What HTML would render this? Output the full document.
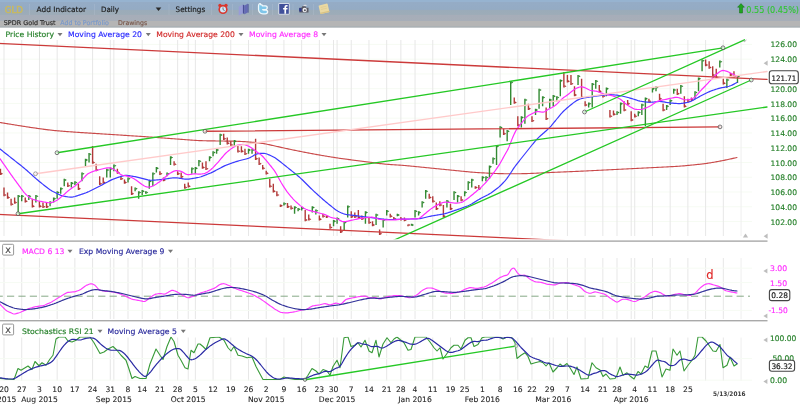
<!DOCTYPE html>
<html><head><meta charset="utf-8"><title>GLD chart</title>
<style>
html,body{margin:0;padding:0;background:#fff;}
body{width:800px;height:404px;overflow:hidden;position:relative;}
svg{display:block;filter:blur(0.35px);position:absolute;left:-4px;top:-4px}
text{font-family:'DejaVu Sans','Liberation Sans',sans-serif;font-size:7.6px;}
.g{stroke:#e7e7e7;stroke-width:1;fill:none}
.h{stroke:#f6fbf3;stroke-width:1;fill:none}
</style></head><body>
<svg width="808" height="412" viewBox="-4 -4 808 412">
<defs>
<linearGradient id="tb" x1="0" y1="0" x2="0" y2="1">
<stop offset="0" stop-color="#97b3d0"/><stop offset="0.06" stop-color="#97b3d0"/><stop offset="0.085" stop-color="#95acc6"/>
<stop offset="0.34" stop-color="#94abc4"/><stop offset="0.365" stop-color="#9babb9"/><stop offset="0.52" stop-color="#9dacb8"/>
<stop offset="0.545" stop-color="#a6adb9"/><stop offset="0.75" stop-color="#a7aeb8"/><stop offset="0.775" stop-color="#b5b5b5"/>
<stop offset="0.94" stop-color="#b5b5b5"/><stop offset="0.955" stop-color="#abb1b4"/><stop offset="1" stop-color="#abb1b4"/>
</linearGradient>
<clipPath id="cm"><rect x="-4" y="38" width="772" height="201.2"/></clipPath>
<clipPath id="c2"><rect x="-4" y="256" width="768" height="64"/></clipPath>
<clipPath id="c3"><rect x="-4" y="336.7" width="772" height="46.3"/></clipPath>
</defs>
<rect x="-4" y="-4" width="808" height="412" fill="#fff"/>

<rect x="-4" y="0" width="808" height="27.7" fill="url(#tb)"/><rect x="-4" y="-4" width="808" height="4.2" fill="#97b3d0"/>
<rect x="29" y="4" width="1" height="11" fill="#c3cfdf" opacity="0.22"/>
<rect x="94" y="4" width="1" height="11" fill="#c3cfdf" opacity="0.22"/>
<rect x="168.5" y="4" width="1" height="11" fill="#c3cfdf" opacity="0.22"/>
<rect x="211" y="4" width="1" height="11" fill="#c3cfdf" opacity="0.22"/>
<rect x="232" y="4" width="1" height="11" fill="#c3cfdf" opacity="0.22"/>
<rect x="252" y="4" width="1" height="11" fill="#c3cfdf" opacity="0.22"/>
<rect x="272" y="4" width="1" height="11" fill="#c3cfdf" opacity="0.22"/>
<rect x="292.5" y="4" width="1" height="11" fill="#c3cfdf" opacity="0.22"/>
<rect x="313" y="4" width="1" height="11" fill="#c3cfdf" opacity="0.22"/>
<text x="4.75" y="12.60" fill="#c9b95e" stroke="#c9b95e" stroke-width="0.5" textLength="18.30" lengthAdjust="spacingAndGlyphs" style="font-size:8.7px">GLD</text>
<text x="36.60" y="12.20" fill="#1c1c1c" stroke="#1c1c1c" stroke-width="0.16" textLength="49.40" lengthAdjust="spacingAndGlyphs" style="font-size:7.5px">Add Indicator</text>
<text x="101.00" y="12.20" fill="#1c1c1c" stroke="#1c1c1c" stroke-width="0.16" textLength="18.00" lengthAdjust="spacingAndGlyphs" style="font-size:7.5px">Daily</text>
<path d="M155.70 7.40h5.6l-2.80 3.6z" fill="#2a2a2a"/>
<text x="175.60" y="12.20" fill="#1c1c1c" stroke="#1c1c1c" stroke-width="0.16" textLength="29.60" lengthAdjust="spacingAndGlyphs" style="font-size:7.5px">Settings</text>
<text x="3.75" y="25.00" fill="#2b2b2b" stroke="#2b2b2b" stroke-width="0.16" textLength="51.90" lengthAdjust="spacingAndGlyphs" style="font-size:6.4px">SPDR Gold Trust</text>
<text x="60.25" y="25.00" fill="#7798cb" stroke="#7798cb" stroke-width="0.16" textLength="48.60" lengthAdjust="spacingAndGlyphs" style="font-size:6.4px">Add to Portfolio</text>
<text x="118.00" y="25.00" fill="#77574b" stroke="#77574b" stroke-width="0.16" textLength="29.30" lengthAdjust="spacingAndGlyphs" style="font-size:6.4px">Drawings</text>
<g transform="translate(223,9)">
<circle cx="-3" cy="-3.6" r="1.7" fill="#d9352c"/><circle cx="3" cy="-3.6" r="1.7" fill="#d9352c"/>
<circle cx="0" cy="0.4" r="4.6" fill="#d9352c"/><circle cx="0" cy="0.4" r="3" fill="#cfe6f7"/>
<path d="M0 -1.6V0.6L1.6 1.6" stroke="#555" stroke-width="0.8" fill="none"/></g>
<g transform="translate(243.5,9)">
<path d="M-4.8 -2.2l4.2 -2.2v8.6l-4.2 2.4z" fill="#989cd8"/><path d="M-0.6 -4.4l1.6 0.8v8.8l-1.6 -1z" fill="#4a4e98"/>
<path d="M1 -3.6l3.2 -1.6v8.6l-3.2 1.8z" fill="#656ab6"/><path d="M4.2 -5.2l0.8 0.4v8.6l-0.8 -0.4z" fill="#3f438c"/></g>
<g transform="translate(263,9.5)">
<path d="M-3 -4.2q1.8 -0.4 2 1.2h3.4q1.4 0.2 1.2 1.4q-0.2 1 -1.4 1h-3.2q0 1.6 1.6 1.8h2.2q1.4 0.2 1.2 1.4q-0.2 1.1 -1.6 1.1h-2.4q-3.6 -0.4 -3.8 -3.8v-3.6q0 -1.2 0.8 -1.5z" fill="#eef7fc" stroke="#eef7fc" stroke-width="2.6" stroke-linejoin="round"/>
<path d="M-3 -4.2q1.8 -0.4 2 1.2h3.4q1.4 0.2 1.2 1.4q-0.2 1 -1.4 1h-3.2q0 1.6 1.6 1.8h2.2q1.4 0.2 1.2 1.4q-0.2 1.1 -1.6 1.1h-2.4q-3.6 -0.4 -3.8 -3.8v-3.6q0 -1.2 0.8 -1.5z" fill="#7fc6ea"/></g>
<g transform="translate(284,9)">
<rect x="-5.6" y="-5.8" width="11.2" height="11.4" rx="0.8" fill="#e4e8f2"/>
<rect x="-4.8" y="-5" width="9.6" height="9.8" fill="#3f4f9a"/>
<path d="M0.4 4.8v-4.2h-1.3v-1.5h1.3v-1q0 -2 2 -2h1.2v1.5h-0.8q-0.7 0 -0.7 0.7v0.8h1.5l-0.2 1.5h-1.3v4.2z" fill="#fff"/></g>
<g transform="translate(304,9.3)">
<path d="M-4.6 -1.6h2l0.9 -1.5h3.1l0.9 1.5h2.2v4.8h-9.1z" fill="#5a5a64"/>
<rect x="-4.8" y="-1.2" width="2.4" height="3.4" fill="#2b3a8c"/>
<circle cx="0.7" cy="0.7" r="2.2" fill="#eeeef2"/><circle cx="0.9" cy="0.9" r="1.0" fill="#5a5a60"/>
<path d="M-1 -3.4l1.4 -1.2h1.6l0.8 1.2z" fill="#dcdce2"/></g>
<g transform="translate(324,8.8) rotate(-13)">
<rect x="-4.6" y="-4.4" width="9.2" height="8.8" rx="0.6" fill="#ead9a2"/>
<path d="M-4.6 3h9.2v1.4h-9.2z" fill="#d9c283"/><path d="M-3 -2h6M-3 0h6" stroke="#dcc88e" stroke-width="0.6"/></g>
<path d="M741 3.6l3.4 3.6h-1.9v5.8h-3v-5.8h-1.9z" fill="#1fa51f" stroke="#136a13" stroke-width="0.5"/>
<text x="746.30" y="12.60" fill="#2fc62f" stroke="#2fc62f" stroke-width="0.1" textLength="52.70" lengthAdjust="spacingAndGlyphs" style="font-size:8.1px">0.55 (0.45%)</text>
<path class="h" d="M-4 221.50H752"/>
<path class="h" d="M-4 206.74H752"/>
<path class="h" d="M-4 191.98H752"/>
<path class="h" d="M-4 177.22H752"/>
<path class="h" d="M-4 162.47H752"/>
<path class="h" d="M-4 147.71H752"/>
<path class="h" d="M-4 132.95H752"/>
<path class="h" d="M-4 118.19H752"/>
<path class="h" d="M-4 103.43H752"/>
<path class="h" d="M-4 88.67H752"/>
<path class="h" d="M-4 73.92H752"/>
<path class="h" d="M-4 59.16H752"/>
<path class="h" d="M-4 44.40H752"/>
<path class="g" d="M4.00 40V236M21.72 40V236M39.43 40V236M57.15 40V236M74.87 40V236M92.59 40V236M110.30 40V236M113.85 40V236M128.02 40V236M142.20 40V236M159.91 40V236M177.63 40V236M188.26 40V236M195.35 40V236M213.07 40V236M230.78 40V236M248.50 40V236M266.22 40V236M283.93 40V236M301.65 40V236M319.37 40V236M333.54 40V236M337.09 40V236M351.26 40V236M368.98 40V236M386.70 40V236M400.87 40V236M415.04 40V236M432.76 40V236M450.48 40V236M464.65 40V236M482.37 40V236M500.09 40V236M517.80 40V236M531.98 40V236M549.70 40V236M553.24 40V236M567.41 40V236M585.13 40V236M602.85 40V236M617.02 40V236M631.20 40V236M634.74 40V236M652.46 40V236M670.17 40V236M687.89 40V236M705.61 40V236M723.33 40V236"/>
<path d="M741.04 40V236M741.04 258V319M741.04 337.5V381" stroke="#efefef" stroke-width="1" fill="none"/>
<path class="g" d="M4.00 258V319M21.72 258V319M39.43 258V319M57.15 258V319M74.87 258V319M92.59 258V319M110.30 258V319M113.85 258V319M128.02 258V319M142.20 258V319M159.91 258V319M177.63 258V319M188.26 258V319M195.35 258V319M213.07 258V319M230.78 258V319M248.50 258V319M266.22 258V319M283.93 258V319M301.65 258V319M319.37 258V319M333.54 258V319M337.09 258V319M351.26 258V319M368.98 258V319M386.70 258V319M400.87 258V319M415.04 258V319M432.76 258V319M450.48 258V319M464.65 258V319M482.37 258V319M500.09 258V319M517.80 258V319M531.98 258V319M549.70 258V319M553.24 258V319M567.41 258V319M585.13 258V319M602.85 258V319M617.02 258V319M631.20 258V319M634.74 258V319M652.46 258V319M670.17 258V319M687.89 258V319M705.61 258V319M723.33 258V319"/>
<path class="g" d="M4.00 337.5V381M21.72 337.5V381M39.43 337.5V381M57.15 337.5V381M74.87 337.5V381M92.59 337.5V381M110.30 337.5V381M113.85 337.5V381M128.02 337.5V381M142.20 337.5V381M159.91 337.5V381M177.63 337.5V381M188.26 337.5V381M195.35 337.5V381M213.07 337.5V381M230.78 337.5V381M248.50 337.5V381M266.22 337.5V381M283.93 337.5V381M301.65 337.5V381M319.37 337.5V381M333.54 337.5V381M337.09 337.5V381M351.26 337.5V381M368.98 337.5V381M386.70 337.5V381M400.87 337.5V381M415.04 337.5V381M432.76 337.5V381M450.48 337.5V381M464.65 337.5V381M482.37 337.5V381M500.09 337.5V381M517.80 337.5V381M531.98 337.5V381M549.70 337.5V381M553.24 337.5V381M567.41 337.5V381M585.13 337.5V381M602.85 337.5V381M617.02 337.5V381M631.20 337.5V381M634.74 337.5V381M652.46 337.5V381M670.17 337.5V381M687.89 337.5V381M705.61 337.5V381M723.33 337.5V381"/>
<text x="5.50" y="37.30" fill="#26802a" stroke="#26802a" stroke-width="0.16" textLength="48.50" lengthAdjust="spacingAndGlyphs">Price History</text>
<path d="M57.50 33.00h5l-2.50 3.2z" fill="#777"/>
<text x="68.00" y="37.30" fill="#2a2aff" stroke="#2a2aff" stroke-width="0.16" textLength="74.00" lengthAdjust="spacingAndGlyphs">Moving Average 20</text>
<path d="M145.80 33.00h5l-2.50 3.2z" fill="#777"/>
<text x="156.30" y="37.30" fill="#d22a2a" stroke="#d22a2a" stroke-width="0.16" textLength="78.50" lengthAdjust="spacingAndGlyphs">Moving Average 200</text>
<path d="M238.50 33.00h5l-2.50 3.2z" fill="#777"/>
<text x="249.00" y="37.30" fill="#ff2cff" stroke="#ff2cff" stroke-width="0.16" textLength="69.10" lengthAdjust="spacingAndGlyphs">Moving Average 8</text>
<path d="M321.50 33.00h5l-2.50 3.2z" fill="#777"/>
<path d="M-5.00 121.68 L-4.00 121.84 L-3.00 122.01 L-2.00 122.17 L-1.00 122.34 L0.00 122.50 L1.00 122.66 L2.00 122.83 L3.00 122.99 L4.00 123.16 L5.00 123.32 L6.00 123.48 L7.00 123.65 L8.00 123.81 L9.00 123.98 L10.00 124.14 L11.00 124.30 L12.00 124.47 L13.00 124.63 L14.00 124.79 L15.00 124.96 L16.00 125.12 L17.00 125.28 L18.00 125.45 L19.00 125.61 L20.00 125.77 L21.00 125.93 L22.00 126.08 L23.00 126.24 L24.00 126.40 L25.00 126.55 L26.00 126.71 L27.00 126.86 L28.00 127.01 L29.00 127.16 L30.00 127.31 L31.00 127.45 L32.00 127.60 L33.00 127.75 L34.00 127.89 L35.00 128.04 L36.00 128.18 L37.00 128.33 L38.00 128.47 L39.00 128.61 L40.00 128.75 L41.00 128.89 L42.00 129.03 L43.00 129.17 L44.00 129.31 L45.00 129.44 L46.00 129.57 L47.00 129.69 L48.00 129.82 L49.00 129.93 L50.00 130.05 L51.00 130.16 L52.00 130.26 L53.00 130.37 L54.00 130.46 L55.00 130.56 L56.00 130.65 L57.00 130.74 L58.00 130.82 L59.00 130.91 L60.00 130.99 L61.00 131.08 L62.00 131.16 L63.00 131.24 L64.00 131.32 L65.00 131.40 L66.00 131.48 L67.00 131.56 L68.00 131.63 L69.00 131.71 L70.00 131.79 L71.00 131.86 L72.00 131.94 L73.00 132.01 L74.00 132.09 L75.00 132.16 L76.00 132.23 L77.00 132.30 L78.00 132.36 L79.00 132.43 L80.00 132.50 L81.00 132.56 L82.00 132.63 L83.00 132.69 L84.00 132.76 L85.00 132.82 L86.00 132.88 L87.00 132.94 L88.00 133.01 L89.00 133.07 L90.00 133.13 L91.00 133.19 L92.00 133.25 L93.00 133.32 L94.00 133.38 L95.00 133.44 L96.00 133.50 L97.00 133.57 L98.00 133.63 L99.00 133.69 L100.00 133.76 L101.00 133.82 L102.00 133.88 L103.00 133.95 L104.00 134.01 L105.00 134.08 L106.00 134.14 L107.00 134.21 L108.00 134.27 L109.00 134.34 L110.00 134.40 L111.00 134.47 L112.00 134.53 L113.00 134.60 L114.00 134.66 L115.00 134.73 L116.00 134.79 L117.00 134.86 L118.00 134.92 L119.00 134.99 L120.00 135.05 L121.00 135.12 L122.00 135.18 L123.00 135.25 L124.00 135.31 L125.00 135.38 L126.00 135.44 L127.00 135.51 L128.00 135.57 L129.00 135.64 L130.00 135.70 L131.00 135.77 L132.00 135.83 L133.00 135.90 L134.00 135.96 L135.00 136.03 L136.00 136.09 L137.00 136.16 L138.00 136.22 L139.00 136.29 L140.00 136.35 L141.00 136.42 L142.00 136.48 L143.00 136.55 L144.00 136.61 L145.00 136.68 L146.00 136.75 L147.00 136.82 L148.00 136.89 L149.00 136.95 L150.00 137.02 L151.00 137.09 L152.00 137.17 L153.00 137.24 L154.00 137.31 L155.00 137.38 L156.00 137.45 L157.00 137.53 L158.00 137.60 L159.00 137.68 L160.00 137.75 L161.00 137.83 L162.00 137.90 L163.00 137.98 L164.00 138.05 L165.00 138.13 L166.00 138.20 L167.00 138.28 L168.00 138.35 L169.00 138.43 L170.00 138.50 L171.00 138.58 L172.00 138.65 L173.00 138.72 L174.00 138.80 L175.00 138.88 L176.00 138.95 L177.00 139.03 L178.00 139.10 L179.00 139.18 L180.00 139.25 L181.00 139.32 L182.00 139.40 L183.00 139.47 L184.00 139.55 L185.00 139.62 L186.00 139.70 L187.00 139.77 L188.00 139.85 L189.00 139.92 L190.00 139.99 L191.00 140.06 L192.00 140.13 L193.00 140.20 L194.00 140.27 L195.00 140.33 L196.00 140.39 L197.00 140.45 L198.00 140.51 L199.00 140.56 L200.00 140.60 L201.00 140.64 L202.00 140.68 L203.00 140.71 L204.00 140.74 L205.00 140.77 L206.00 140.79 L207.00 140.82 L208.00 140.83 L209.00 140.85 L210.00 140.87 L211.00 140.88 L212.00 140.90 L213.00 140.91 L214.00 140.92 L215.00 140.94 L216.00 140.95 L217.00 140.96 L218.00 140.98 L219.00 140.99 L220.00 141.00 L221.00 141.01 L222.00 141.03 L223.00 141.04 L224.00 141.05 L225.00 141.06 L226.00 141.08 L227.00 141.09 L228.00 141.10 L229.00 141.12 L230.00 141.13 L231.00 141.15 L232.00 141.17 L233.00 141.19 L234.00 141.21 L235.00 141.23 L236.00 141.26 L237.00 141.29 L238.00 141.33 L239.00 141.37 L240.00 141.41 L241.00 141.46 L242.00 141.51 L243.00 141.57 L244.00 141.63 L245.00 141.69 L246.00 141.76 L247.00 141.83 L248.00 141.90 L249.00 141.98 L250.00 142.06 L251.00 142.14 L252.00 142.22 L253.00 142.31 L254.00 142.40 L255.00 142.50 L256.00 142.60 L257.00 142.70 L258.00 142.82 L259.00 142.94 L260.00 143.07 L261.00 143.21 L262.00 143.36 L263.00 143.52 L264.00 143.69 L265.00 143.87 L266.00 144.05 L267.00 144.25 L268.00 144.45 L269.00 144.66 L270.00 144.88 L271.00 145.09 L272.00 145.32 L273.00 145.54 L274.00 145.77 L275.00 145.99 L276.00 146.22 L277.00 146.45 L278.00 146.68 L279.00 146.90 L280.00 147.13 L281.00 147.36 L282.00 147.58 L283.00 147.80 L284.00 148.02 L285.00 148.24 L286.00 148.46 L287.00 148.68 L288.00 148.89 L289.00 149.10 L290.00 149.31 L291.00 149.52 L292.00 149.73 L293.00 149.94 L294.00 150.14 L295.00 150.34 L296.00 150.55 L297.00 150.75 L298.00 150.95 L299.00 151.15 L300.00 151.35 L301.00 151.55 L302.00 151.75 L303.00 151.95 L304.00 152.14 L305.00 152.34 L306.00 152.54 L307.00 152.73 L308.00 152.92 L309.00 153.11 L310.00 153.30 L311.00 153.49 L312.00 153.68 L313.00 153.86 L314.00 154.04 L315.00 154.22 L316.00 154.40 L317.00 154.58 L318.00 154.76 L319.00 154.93 L320.00 155.10 L321.00 155.28 L322.00 155.45 L323.00 155.62 L324.00 155.79 L325.00 155.96 L326.00 156.13 L327.00 156.30 L328.00 156.46 L329.00 156.63 L330.00 156.80 L331.00 156.96 L332.00 157.12 L333.00 157.28 L334.00 157.44 L335.00 157.60 L336.00 157.75 L337.00 157.91 L338.00 158.05 L339.00 158.20 L340.00 158.34 L341.00 158.48 L342.00 158.62 L343.00 158.76 L344.00 158.90 L345.00 159.03 L346.00 159.16 L347.00 159.30 L348.00 159.43 L349.00 159.56 L350.00 159.69 L351.00 159.82 L352.00 159.95 L353.00 160.08 L354.00 160.21 L355.00 160.34 L356.00 160.47 L357.00 160.60 L358.00 160.73 L359.00 160.86 L360.00 160.99 L361.00 161.12 L362.00 161.25 L363.00 161.38 L364.00 161.51 L365.00 161.64 L366.00 161.77 L367.00 161.90 L368.00 162.03 L369.00 162.16 L370.00 162.29 L371.00 162.42 L372.00 162.55 L373.00 162.68 L374.00 162.81 L375.00 162.94 L376.00 163.06 L377.00 163.19 L378.00 163.32 L379.00 163.44 L380.00 163.56 L381.00 163.68 L382.00 163.79 L383.00 163.90 L384.00 164.00 L385.00 164.10 L386.00 164.20 L387.00 164.28 L388.00 164.37 L389.00 164.44 L390.00 164.52 L391.00 164.58 L392.00 164.65 L393.00 164.71 L394.00 164.77 L395.00 164.83 L396.00 164.89 L397.00 164.95 L398.00 165.01 L399.00 165.07 L400.00 165.14 L401.00 165.22 L402.00 165.29 L403.00 165.37 L404.00 165.45 L405.00 165.54 L406.00 165.63 L407.00 165.72 L408.00 165.81 L409.00 165.91 L410.00 166.01 L411.00 166.10 L412.00 166.20 L413.00 166.30 L414.00 166.40 L415.00 166.50 L416.00 166.60 L417.00 166.70 L418.00 166.80 L419.00 166.90 L420.00 167.00 L421.00 167.10 L422.00 167.20 L423.00 167.30 L424.00 167.40 L425.00 167.50 L426.00 167.60 L427.00 167.70 L428.00 167.80 L429.00 167.90 L430.00 168.00 L431.00 168.10 L432.00 168.20 L433.00 168.30 L434.00 168.40 L435.00 168.50 L436.00 168.60 L437.00 168.70 L438.00 168.80 L439.00 168.90 L440.00 169.00 L441.00 169.10 L442.00 169.20 L443.00 169.30 L444.00 169.40 L445.00 169.50 L446.00 169.60 L447.00 169.70 L448.00 169.80 L449.00 169.90 L450.00 170.00 L451.00 170.10 L452.00 170.20 L453.00 170.30 L454.00 170.40 L455.00 170.50 L456.00 170.60 L457.00 170.70 L458.00 170.80 L459.00 170.90 L460.00 171.00 L461.00 171.10 L462.00 171.20 L463.00 171.30 L464.00 171.40 L465.00 171.49 L466.00 171.59 L467.00 171.69 L468.00 171.78 L469.00 171.88 L470.00 171.97 L471.00 172.06 L472.00 172.14 L473.00 172.22 L474.00 172.30 L475.00 172.38 L476.00 172.45 L477.00 172.52 L478.00 172.59 L479.00 172.66 L480.00 172.72 L481.00 172.78 L482.00 172.83 L483.00 172.89 L484.00 172.94 L485.00 172.99 L486.00 173.05 L487.00 173.10 L488.00 173.15 L489.00 173.20 L490.00 173.24 L491.00 173.29 L492.00 173.34 L493.00 173.38 L494.00 173.43 L495.00 173.47 L496.00 173.51 L497.00 173.54 L498.00 173.57 L499.00 173.60 L500.00 173.63 L501.00 173.65 L502.00 173.67 L503.00 173.69 L504.00 173.71 L505.00 173.72 L506.00 173.73 L507.00 173.73 L508.00 173.74 L509.00 173.74 L510.00 173.74 L511.00 173.75 L512.00 173.75 L513.00 173.75 L514.00 173.75 L515.00 173.74 L516.00 173.74 L517.00 173.74 L518.00 173.73 L519.00 173.73 L520.00 173.72 L521.00 173.71 L522.00 173.69 L523.00 173.67 L524.00 173.65 L525.00 173.63 L526.00 173.60 L527.00 173.57 L528.00 173.54 L529.00 173.51 L530.00 173.47 L531.00 173.43 L532.00 173.38 L533.00 173.34 L534.00 173.29 L535.00 173.24 L536.00 173.20 L537.00 173.15 L538.00 173.10 L539.00 173.05 L540.00 173.00 L541.00 172.95 L542.00 172.90 L543.00 172.85 L544.00 172.80 L545.00 172.76 L546.00 172.71 L547.00 172.66 L548.00 172.61 L549.00 172.57 L550.00 172.52 L551.00 172.47 L552.00 172.43 L553.00 172.38 L554.00 172.34 L555.00 172.30 L556.00 172.25 L557.00 172.21 L558.00 172.17 L559.00 172.13 L560.00 172.08 L561.00 172.04 L562.00 172.00 L563.00 171.96 L564.00 171.92 L565.00 171.88 L566.00 171.83 L567.00 171.79 L568.00 171.75 L569.00 171.71 L570.00 171.67 L571.00 171.62 L572.00 171.58 L573.00 171.54 L574.00 171.50 L575.00 171.45 L576.00 171.41 L577.00 171.37 L578.00 171.32 L579.00 171.28 L580.00 171.23 L581.00 171.18 L582.00 171.14 L583.00 171.09 L584.00 171.04 L585.00 170.99 L586.00 170.95 L587.00 170.90 L588.00 170.85 L589.00 170.80 L590.00 170.75 L591.00 170.70 L592.00 170.65 L593.00 170.60 L594.00 170.55 L595.00 170.50 L596.00 170.45 L597.00 170.40 L598.00 170.35 L599.00 170.30 L600.00 170.25 L601.00 170.20 L602.00 170.15 L603.00 170.10 L604.00 170.05 L605.00 170.00 L606.00 169.95 L607.00 169.90 L608.00 169.85 L609.00 169.80 L610.00 169.75 L611.00 169.70 L612.00 169.65 L613.00 169.60 L614.00 169.55 L615.00 169.50 L616.00 169.45 L617.00 169.40 L618.00 169.35 L619.00 169.30 L620.00 169.25 L621.00 169.20 L622.00 169.15 L623.00 169.10 L624.00 169.05 L625.00 169.00 L626.00 168.95 L627.00 168.90 L628.00 168.85 L629.00 168.80 L630.00 168.75 L631.00 168.70 L632.00 168.65 L633.00 168.60 L634.00 168.55 L635.00 168.50 L636.00 168.45 L637.00 168.40 L638.00 168.35 L639.00 168.30 L640.00 168.25 L641.00 168.20 L642.00 168.15 L643.00 168.10 L644.00 168.05 L645.00 168.00 L646.00 167.95 L647.00 167.90 L648.00 167.85 L649.00 167.80 L650.00 167.75 L651.00 167.70 L652.00 167.65 L653.00 167.60 L654.00 167.55 L655.00 167.50 L656.00 167.45 L657.00 167.40 L658.00 167.35 L659.00 167.30 L660.00 167.25 L661.00 167.20 L662.00 167.15 L663.00 167.10 L664.00 167.05 L665.00 167.00 L666.00 166.95 L667.00 166.90 L668.00 166.85 L669.00 166.80 L670.00 166.74 L671.00 166.69 L672.00 166.64 L673.00 166.58 L674.00 166.53 L675.00 166.47 L676.00 166.41 L677.00 166.34 L678.00 166.27 L679.00 166.20 L680.00 166.13 L681.00 166.05 L682.00 165.97 L683.00 165.89 L684.00 165.81 L685.00 165.72 L686.00 165.63 L687.00 165.53 L688.00 165.44 L689.00 165.34 L690.00 165.24 L691.00 165.15 L692.00 165.05 L693.00 164.95 L694.00 164.84 L695.00 164.74 L696.00 164.64 L697.00 164.53 L698.00 164.43 L699.00 164.32 L700.00 164.21 L701.00 164.09 L702.00 163.97 L703.00 163.85 L704.00 163.72 L705.00 163.59 L706.00 163.46 L707.00 163.32 L708.00 163.17 L709.00 163.02 L710.00 162.87 L711.00 162.71 L712.00 162.55 L713.00 162.38 L714.00 162.21 L715.00 162.04 L716.00 161.86 L717.00 161.68 L718.00 161.50 L719.00 161.31 L720.00 161.12 L721.00 160.93 L722.00 160.73 L723.00 160.53 L724.00 160.32 L725.00 160.11 L726.00 159.90 L727.00 159.69 L728.00 159.47 L729.00 159.26 L730.00 159.04 L731.00 158.82 L732.00 158.60 L733.00 158.38 L734.00 158.16 L735.00 157.94 L736.00 157.72 L737.00 157.50" fill="none" stroke="#c94a4a" stroke-width="1.15" stroke-linejoin="round" stroke-linecap="round" clip-path="url(#cm)"/>
<path d="M18.17 195.00V212.50M21.72 195.00V201.25M28.80 195.00V200.00M35.89 195.00V202.50M50.07 201.25V206.25M53.61 197.50V202.50M57.15 191.25V198.75M60.70 187.50V193.75M64.24 178.75V186.25M71.33 182.00V187.50M74.87 181.25V185.00M81.96 172.50V181.25M85.50 158.75V166.25M89.04 153.00V162.50M106.76 168.75V177.50M110.30 167.50V177.50M113.85 164.50V171.25M128.02 177.50V182.50M135.11 187.50V191.25M138.65 191.25V198.75M142.20 190.00V195.00M145.74 191.25V193.75M149.28 180.00V188.75M152.83 172.50V186.25M156.37 167.00V172.50M167.00 172.50V176.25M170.54 156.25V165.00M191.80 167.50V173.75M195.35 167.00V173.75M198.89 160.00V166.25M209.52 156.25V161.25M213.07 151.25V156.25M216.61 148.75V153.75M220.15 133.75V145.00M234.33 140.00V146.25M248.50 148.75V153.75M252.04 148.75V153.75M283.93 202.50V205.50M294.57 206.25V213.75M298.11 208.00V211.25M301.65 207.00V210.50M312.28 206.25V212.50M315.83 209.50V214.50M333.54 220.00V226.25M337.09 217.50V223.75M344.17 221.25V230.00M347.72 205.50V217.50M365.43 211.25V223.75M376.07 213.75V225.00M383.15 218.75V227.50M386.70 210.00V215.50M397.33 213.75V216.25M411.50 223.75V225.75M415.04 210.00V217.50M418.59 211.25V215.50M422.13 201.25V207.50M425.67 190.00V198.75M446.93 200.00V207.50M454.02 191.25V200.00M457.57 195.00V202.50M464.65 191.25V196.25M468.20 181.25V190.00M471.74 178.75V187.50M482.37 176.25V181.25M485.91 176.25V181.25M489.46 165.50V178.75M493.00 157.50V163.75M496.54 145.00V165.00M500.09 126.25V137.50M507.17 130.00V141.25M510.72 81.25V105.00M521.35 116.25V127.50M524.89 98.75V123.75M535.52 108.75V115.00M539.07 88.75V108.75M542.61 96.25V106.25M549.70 98.75V108.00M553.24 95.00V106.25M556.78 96.25V101.25M560.33 79.50V96.25M578.04 75.00V85.00M588.67 102.50V107.50M592.22 83.00V107.50M595.76 80.00V88.75M606.39 87.50V96.25M617.02 111.25V115.00M620.57 102.50V113.75M638.28 111.25V116.25M641.83 103.75V115.00M645.37 97.50V126.25M652.46 87.50V92.50M656.00 86.25V91.25M666.63 105.00V110.00M670.17 99.50V105.00M673.72 88.75V93.75M680.80 85.00V93.75M694.98 91.25V98.75M698.52 77.50V91.25M702.07 59.50V71.25M719.78 60.50V67.50M726.87 78.75V88.00M737.50 75.00V83.00" stroke="#338a33" stroke-width="1.4" fill="none" clip-path="url(#cm)"/>
<path d="M0.46 168.75V175.00M4.00 187.50V196.25M7.54 192.50V198.75M11.09 198.75V205.50M14.63 197.50V203.75M25.26 197.50V202.50M32.35 198.75V207.50M39.43 201.25V207.50M42.98 202.50V208.00M46.52 202.50V208.00M67.78 182.50V187.00M78.41 183.75V190.00M92.59 146.00V163.75M96.13 163.75V171.25M99.67 176.25V185.00M103.22 177.50V183.75M117.39 168.75V173.75M120.93 176.25V180.00M124.48 179.50V183.75M131.57 186.25V195.00M159.91 171.25V175.00M163.46 177.50V181.25M174.09 161.25V165.50M177.63 171.25V175.00M181.17 172.50V178.00M184.72 183.75V188.75M188.26 182.50V187.50M202.43 162.50V168.75M205.98 161.25V170.00M223.70 133.75V140.00M227.24 137.50V144.50M230.78 141.25V146.25M237.87 145.00V152.50M241.41 146.25V152.50M244.96 148.75V155.00M255.59 138.75V160.00M259.13 157.50V165.00M262.67 165.00V169.50M266.22 170.75V174.50M269.76 178.75V187.50M273.30 183.75V192.50M276.85 191.25V196.25M280.39 204.50V207.00M287.48 203.00V208.00M291.02 205.50V209.50M305.20 210.00V221.25M308.74 214.50V220.50M319.37 215.50V220.50M322.91 213.75V217.50M326.46 215.50V218.00M330.00 223.75V228.75M340.63 226.25V233.00M351.26 211.25V218.00M354.80 212.50V218.00M358.35 210.00V218.75M361.89 215.50V220.00M368.98 217.50V223.75M372.52 221.25V226.25M379.61 229.50V235.00M390.24 213.75V217.50M393.78 217.00V220.00M400.87 217.00V220.50M404.41 217.50V221.25M407.96 224.50V226.25M429.22 193.75V198.75M432.76 196.25V202.50M436.30 202.50V210.00M439.85 201.25V206.25M443.39 205.00V217.50M450.48 203.75V210.00M461.11 196.25V201.25M475.28 186.25V188.75M478.83 185.00V190.00M503.63 128.75V135.00M514.26 97.50V103.75M517.80 116.25V126.25M528.43 103.75V110.00M531.98 116.25V122.00M546.15 107.50V120.00M563.87 72.00V87.50M567.41 75.00V82.50M570.96 75.00V85.00M574.50 86.25V96.25M581.59 78.75V98.75M585.13 101.25V106.25M599.30 85.00V92.50M602.85 93.75V97.50M609.93 110.00V117.50M613.48 110.50V115.50M624.11 101.25V111.25M627.65 100.00V105.00M631.20 111.25V121.25M634.74 113.75V117.50M648.91 98.75V102.50M659.54 93.75V100.00M663.09 103.75V111.25M677.26 88.75V95.00M684.35 96.25V107.50M687.89 98.75V102.50M691.43 97.50V101.25M705.61 59.50V66.25M709.15 61.25V68.75M712.70 66.25V76.25M716.24 68.75V78.75M723.33 78.75V84.50M730.41 73.00V76.25M733.96 71.25V77.50" stroke="#b23a3a" stroke-width="1.4" fill="none" clip-path="url(#cm)"/>
<path d="M18.67 195.10l2.1 1.2l-2.1 1.2zM22.22 195.10l2.1 1.2l-2.1 1.2zM29.30 195.10l2.1 1.2l-2.1 1.2zM36.39 195.10l2.1 1.2l-2.1 1.2zM50.57 201.35l2.1 1.2l-2.1 1.2zM54.11 197.60l2.1 1.2l-2.1 1.2zM57.65 191.35l2.1 1.2l-2.1 1.2zM61.20 187.60l2.1 1.2l-2.1 1.2zM64.74 178.85l2.1 1.2l-2.1 1.2zM71.83 182.10l2.1 1.2l-2.1 1.2zM75.37 181.35l2.1 1.2l-2.1 1.2zM82.46 172.60l2.1 1.2l-2.1 1.2zM86.00 158.85l2.1 1.2l-2.1 1.2zM89.54 153.10l2.1 1.2l-2.1 1.2zM107.26 168.85l2.1 1.2l-2.1 1.2zM110.80 167.60l2.1 1.2l-2.1 1.2zM114.35 164.60l2.1 1.2l-2.1 1.2zM128.52 177.60l2.1 1.2l-2.1 1.2zM135.61 187.60l2.1 1.2l-2.1 1.2zM139.15 191.35l2.1 1.2l-2.1 1.2zM142.70 190.10l2.1 1.2l-2.1 1.2zM146.24 191.35l2.1 1.2l-2.1 1.2zM149.78 180.10l2.1 1.2l-2.1 1.2zM153.33 172.60l2.1 1.2l-2.1 1.2zM156.87 167.10l2.1 1.2l-2.1 1.2zM167.50 172.60l2.1 1.2l-2.1 1.2zM171.04 156.35l2.1 1.2l-2.1 1.2zM192.30 167.60l2.1 1.2l-2.1 1.2zM195.85 167.10l2.1 1.2l-2.1 1.2zM199.39 160.10l2.1 1.2l-2.1 1.2zM210.02 156.35l2.1 1.2l-2.1 1.2zM213.57 151.35l2.1 1.2l-2.1 1.2zM217.11 148.85l2.1 1.2l-2.1 1.2zM220.65 133.85l2.1 1.2l-2.1 1.2zM234.83 140.10l2.1 1.2l-2.1 1.2zM249.00 148.85l2.1 1.2l-2.1 1.2zM252.54 148.85l2.1 1.2l-2.1 1.2zM284.43 202.60l2.1 1.2l-2.1 1.2zM295.07 206.35l2.1 1.2l-2.1 1.2zM298.61 208.10l2.1 1.2l-2.1 1.2zM302.15 207.10l2.1 1.2l-2.1 1.2zM312.78 206.35l2.1 1.2l-2.1 1.2zM316.33 209.60l2.1 1.2l-2.1 1.2zM334.04 220.10l2.1 1.2l-2.1 1.2zM337.59 217.60l2.1 1.2l-2.1 1.2zM344.67 221.35l2.1 1.2l-2.1 1.2zM348.22 205.60l2.1 1.2l-2.1 1.2zM365.93 211.35l2.1 1.2l-2.1 1.2zM376.57 213.85l2.1 1.2l-2.1 1.2zM383.65 218.85l2.1 1.2l-2.1 1.2zM387.20 210.10l2.1 1.2l-2.1 1.2zM397.83 213.85l2.1 1.2l-2.1 1.2zM412.00 223.85l2.1 1.2l-2.1 1.2zM415.54 210.10l2.1 1.2l-2.1 1.2zM419.09 211.35l2.1 1.2l-2.1 1.2zM422.63 201.35l2.1 1.2l-2.1 1.2zM426.17 190.10l2.1 1.2l-2.1 1.2zM447.43 200.10l2.1 1.2l-2.1 1.2zM454.52 191.35l2.1 1.2l-2.1 1.2zM458.07 195.10l2.1 1.2l-2.1 1.2zM465.15 191.35l2.1 1.2l-2.1 1.2zM468.70 181.35l2.1 1.2l-2.1 1.2zM472.24 178.85l2.1 1.2l-2.1 1.2zM482.87 176.35l2.1 1.2l-2.1 1.2zM486.41 176.35l2.1 1.2l-2.1 1.2zM489.96 165.60l2.1 1.2l-2.1 1.2zM493.50 157.60l2.1 1.2l-2.1 1.2zM497.04 145.10l2.1 1.2l-2.1 1.2zM500.59 126.35l2.1 1.2l-2.1 1.2zM507.67 130.10l2.1 1.2l-2.1 1.2zM511.22 81.35l2.1 1.2l-2.1 1.2zM521.85 116.35l2.1 1.2l-2.1 1.2zM525.39 98.85l2.1 1.2l-2.1 1.2zM536.02 108.85l2.1 1.2l-2.1 1.2zM539.57 88.85l2.1 1.2l-2.1 1.2zM543.11 96.35l2.1 1.2l-2.1 1.2zM550.20 98.85l2.1 1.2l-2.1 1.2zM553.74 95.10l2.1 1.2l-2.1 1.2zM557.28 96.35l2.1 1.2l-2.1 1.2zM560.83 79.60l2.1 1.2l-2.1 1.2zM578.54 75.10l2.1 1.2l-2.1 1.2zM589.17 102.60l2.1 1.2l-2.1 1.2zM592.72 83.10l2.1 1.2l-2.1 1.2zM596.26 80.10l2.1 1.2l-2.1 1.2zM606.89 87.60l2.1 1.2l-2.1 1.2zM617.52 111.35l2.1 1.2l-2.1 1.2zM621.07 102.60l2.1 1.2l-2.1 1.2zM638.78 111.35l2.1 1.2l-2.1 1.2zM642.33 103.85l2.1 1.2l-2.1 1.2zM645.87 97.60l2.1 1.2l-2.1 1.2zM652.96 87.60l2.1 1.2l-2.1 1.2zM656.50 86.35l2.1 1.2l-2.1 1.2zM667.13 105.10l2.1 1.2l-2.1 1.2zM670.67 99.60l2.1 1.2l-2.1 1.2zM674.22 88.85l2.1 1.2l-2.1 1.2zM681.30 85.10l2.1 1.2l-2.1 1.2zM695.48 91.35l2.1 1.2l-2.1 1.2zM699.02 77.60l2.1 1.2l-2.1 1.2zM702.57 59.60l2.1 1.2l-2.1 1.2zM720.28 60.60l2.1 1.2l-2.1 1.2zM727.37 78.85l2.1 1.2l-2.1 1.2zM738.00 75.10l2.1 1.2l-2.1 1.2z" fill="#338a33" clip-path="url(#cm)"/>
<path d="M0.96 172.50l2.1 1.2l-2.1 1.2zM4.50 193.75l2.1 1.2l-2.1 1.2zM8.04 196.25l2.1 1.2l-2.1 1.2zM11.59 203.00l2.1 1.2l-2.1 1.2zM15.13 201.25l2.1 1.2l-2.1 1.2zM25.76 200.00l2.1 1.2l-2.1 1.2zM32.85 205.00l2.1 1.2l-2.1 1.2zM39.93 205.00l2.1 1.2l-2.1 1.2zM43.48 205.50l2.1 1.2l-2.1 1.2zM47.02 205.50l2.1 1.2l-2.1 1.2zM68.28 184.50l2.1 1.2l-2.1 1.2zM78.91 187.50l2.1 1.2l-2.1 1.2zM93.09 161.25l2.1 1.2l-2.1 1.2zM96.63 168.75l2.1 1.2l-2.1 1.2zM100.17 182.50l2.1 1.2l-2.1 1.2zM103.72 181.25l2.1 1.2l-2.1 1.2zM117.89 171.25l2.1 1.2l-2.1 1.2zM121.43 177.50l2.1 1.2l-2.1 1.2zM124.98 181.25l2.1 1.2l-2.1 1.2zM132.07 192.50l2.1 1.2l-2.1 1.2zM160.41 172.50l2.1 1.2l-2.1 1.2zM163.96 178.75l2.1 1.2l-2.1 1.2zM174.59 163.00l2.1 1.2l-2.1 1.2zM178.13 172.50l2.1 1.2l-2.1 1.2zM181.67 175.50l2.1 1.2l-2.1 1.2zM185.22 186.25l2.1 1.2l-2.1 1.2zM188.76 185.00l2.1 1.2l-2.1 1.2zM202.93 166.25l2.1 1.2l-2.1 1.2zM206.48 167.50l2.1 1.2l-2.1 1.2zM224.20 137.50l2.1 1.2l-2.1 1.2zM227.74 142.00l2.1 1.2l-2.1 1.2zM231.28 143.75l2.1 1.2l-2.1 1.2zM238.37 150.00l2.1 1.2l-2.1 1.2zM241.91 150.00l2.1 1.2l-2.1 1.2zM245.46 152.50l2.1 1.2l-2.1 1.2zM256.09 157.50l2.1 1.2l-2.1 1.2zM259.63 162.50l2.1 1.2l-2.1 1.2zM263.17 167.00l2.1 1.2l-2.1 1.2zM266.72 172.00l2.1 1.2l-2.1 1.2zM270.26 185.00l2.1 1.2l-2.1 1.2zM273.80 190.00l2.1 1.2l-2.1 1.2zM277.35 193.75l2.1 1.2l-2.1 1.2zM280.89 204.50l2.1 1.2l-2.1 1.2zM287.98 205.50l2.1 1.2l-2.1 1.2zM291.52 207.00l2.1 1.2l-2.1 1.2zM305.70 218.75l2.1 1.2l-2.1 1.2zM309.24 218.00l2.1 1.2l-2.1 1.2zM319.87 218.00l2.1 1.2l-2.1 1.2zM323.41 215.00l2.1 1.2l-2.1 1.2zM326.96 215.50l2.1 1.2l-2.1 1.2zM330.50 226.25l2.1 1.2l-2.1 1.2zM341.13 230.50l2.1 1.2l-2.1 1.2zM351.76 215.50l2.1 1.2l-2.1 1.2zM355.30 215.50l2.1 1.2l-2.1 1.2zM358.85 216.25l2.1 1.2l-2.1 1.2zM362.39 217.50l2.1 1.2l-2.1 1.2zM369.48 221.25l2.1 1.2l-2.1 1.2zM373.02 223.75l2.1 1.2l-2.1 1.2zM380.11 232.50l2.1 1.2l-2.1 1.2zM390.74 215.00l2.1 1.2l-2.1 1.2zM394.28 217.50l2.1 1.2l-2.1 1.2zM401.37 218.00l2.1 1.2l-2.1 1.2zM404.91 218.75l2.1 1.2l-2.1 1.2zM408.46 223.75l2.1 1.2l-2.1 1.2zM429.72 196.25l2.1 1.2l-2.1 1.2zM433.26 200.00l2.1 1.2l-2.1 1.2zM436.80 207.50l2.1 1.2l-2.1 1.2zM440.35 203.75l2.1 1.2l-2.1 1.2zM443.89 215.00l2.1 1.2l-2.1 1.2zM450.98 207.50l2.1 1.2l-2.1 1.2zM461.61 198.75l2.1 1.2l-2.1 1.2zM475.78 186.25l2.1 1.2l-2.1 1.2zM479.33 187.50l2.1 1.2l-2.1 1.2zM504.13 132.50l2.1 1.2l-2.1 1.2zM514.76 101.25l2.1 1.2l-2.1 1.2zM518.30 123.75l2.1 1.2l-2.1 1.2zM528.93 107.50l2.1 1.2l-2.1 1.2zM532.48 119.50l2.1 1.2l-2.1 1.2zM546.65 117.50l2.1 1.2l-2.1 1.2zM564.37 85.00l2.1 1.2l-2.1 1.2zM567.91 80.00l2.1 1.2l-2.1 1.2zM571.46 82.50l2.1 1.2l-2.1 1.2zM575.00 93.75l2.1 1.2l-2.1 1.2zM582.09 96.25l2.1 1.2l-2.1 1.2zM585.63 103.75l2.1 1.2l-2.1 1.2zM599.80 90.00l2.1 1.2l-2.1 1.2zM603.35 95.00l2.1 1.2l-2.1 1.2zM610.43 115.00l2.1 1.2l-2.1 1.2zM613.98 113.00l2.1 1.2l-2.1 1.2zM624.61 108.75l2.1 1.2l-2.1 1.2zM628.15 102.50l2.1 1.2l-2.1 1.2zM631.70 118.75l2.1 1.2l-2.1 1.2zM635.24 115.00l2.1 1.2l-2.1 1.2zM649.41 100.00l2.1 1.2l-2.1 1.2zM660.04 97.50l2.1 1.2l-2.1 1.2zM663.59 108.75l2.1 1.2l-2.1 1.2zM677.76 92.50l2.1 1.2l-2.1 1.2zM684.85 105.00l2.1 1.2l-2.1 1.2zM688.39 100.00l2.1 1.2l-2.1 1.2zM691.93 98.75l2.1 1.2l-2.1 1.2zM706.11 63.75l2.1 1.2l-2.1 1.2zM709.65 66.25l2.1 1.2l-2.1 1.2zM713.20 73.75l2.1 1.2l-2.1 1.2zM716.74 76.25l2.1 1.2l-2.1 1.2zM723.83 82.00l2.1 1.2l-2.1 1.2zM730.91 73.75l2.1 1.2l-2.1 1.2zM734.46 75.00l2.1 1.2l-2.1 1.2z" fill="#b23a3a" clip-path="url(#cm)"/>
<path d="M-5.00 145.05 L-4.00 145.84 L-3.00 146.63 L-2.00 147.42 L-1.00 148.21 L0.00 149.00 L1.00 149.79 L2.00 150.58 L3.00 151.37 L4.00 152.16 L5.00 152.95 L6.00 153.74 L7.00 154.53 L8.00 155.32 L9.00 156.11 L10.00 156.90 L11.00 157.69 L12.00 158.48 L13.00 159.27 L14.00 160.06 L15.00 160.85 L16.00 161.64 L17.00 162.43 L18.00 163.22 L19.00 164.01 L20.00 164.80 L21.00 165.59 L22.00 166.39 L23.00 167.19 L24.00 168.01 L25.00 168.84 L26.00 169.70 L27.00 170.57 L28.00 171.46 L29.00 172.35 L30.00 173.25 L31.00 174.15 L32.00 175.05 L33.00 175.95 L34.00 176.84 L35.00 177.74 L36.00 178.62 L37.00 179.48 L38.00 180.33 L39.00 181.17 L40.00 181.99 L41.00 182.79 L42.00 183.60 L43.00 184.40 L44.00 185.20 L45.00 186.00 L46.00 186.79 L47.00 187.58 L48.00 188.34 L49.00 189.06 L50.00 189.74 L51.00 190.36 L52.00 190.94 L53.00 191.48 L54.00 191.99 L55.00 192.50 L56.00 193.00 L57.00 193.50 L58.00 193.99 L59.00 194.47 L60.00 194.93 L61.00 195.34 L62.00 195.70 L63.00 195.99 L64.00 196.23 L65.00 196.42 L66.00 196.59 L67.00 196.74 L68.00 196.89 L69.00 197.01 L70.00 197.10 L71.00 197.13 L72.00 197.08 L73.00 196.95 L74.00 196.73 L75.00 196.46 L76.00 196.15 L77.00 195.83 L78.00 195.50 L79.00 195.17 L80.00 194.83 L81.00 194.50 L82.00 194.17 L83.00 193.83 L84.00 193.49 L85.00 193.13 L86.00 192.76 L87.00 192.36 L88.00 191.92 L89.00 191.47 L90.00 190.99 L91.00 190.50 L92.00 190.00 L93.00 189.50 L94.00 189.00 L95.00 188.50 L96.00 188.00 L97.00 187.50 L98.00 186.99 L99.00 186.48 L100.00 185.96 L101.00 185.44 L102.00 184.91 L103.00 184.37 L104.00 183.83 L105.00 183.29 L106.00 182.75 L107.00 182.21 L108.00 181.67 L109.00 181.14 L110.00 180.62 L111.00 180.13 L112.00 179.67 L113.00 179.24 L114.00 178.85 L115.00 178.48 L116.00 178.12 L117.00 177.77 L118.00 177.42 L119.00 177.08 L120.00 176.73 L121.00 176.40 L122.00 176.08 L123.00 175.80 L124.00 175.58 L125.00 175.44 L126.00 175.40 L127.00 175.44 L128.00 175.54 L129.00 175.68 L130.00 175.84 L131.00 176.00 L132.00 176.17 L133.00 176.34 L134.00 176.51 L135.00 176.69 L136.00 176.88 L137.00 177.09 L138.00 177.32 L139.00 177.56 L140.00 177.82 L141.00 178.08 L142.00 178.35 L143.00 178.62 L144.00 178.88 L145.00 179.15 L146.00 179.41 L147.00 179.66 L148.00 179.89 L149.00 180.07 L150.00 180.20 L151.00 180.26 L152.00 180.26 L153.00 180.22 L154.00 180.16 L155.00 180.08 L156.00 180.00 L157.00 179.92 L158.00 179.83 L159.00 179.74 L160.00 179.65 L161.00 179.55 L162.00 179.44 L163.00 179.31 L164.00 179.18 L165.00 179.03 L166.00 178.88 L167.00 178.73 L168.00 178.58 L169.00 178.42 L170.00 178.27 L171.00 178.12 L172.00 177.99 L173.00 177.87 L174.00 177.80 L175.00 177.78 L176.00 177.81 L177.00 177.90 L178.00 178.03 L179.00 178.17 L180.00 178.34 L181.00 178.50 L182.00 178.66 L183.00 178.82 L184.00 178.97 L185.00 179.10 L186.00 179.18 L187.00 179.20 L188.00 179.17 L189.00 179.08 L190.00 178.94 L191.00 178.78 L192.00 178.61 L193.00 178.44 L194.00 178.26 L195.00 178.08 L196.00 177.90 L197.00 177.71 L198.00 177.51 L199.00 177.28 L200.00 177.02 L201.00 176.71 L202.00 176.37 L203.00 176.01 L204.00 175.63 L205.00 175.24 L206.00 174.85 L207.00 174.46 L208.00 174.06 L209.00 173.66 L210.00 173.25 L211.00 172.83 L212.00 172.37 L213.00 171.90 L214.00 171.39 L215.00 170.87 L216.00 170.34 L217.00 169.81 L218.00 169.27 L219.00 168.73 L220.00 168.19 L221.00 167.66 L222.00 167.13 L223.00 166.61 L224.00 166.12 L225.00 165.66 L226.00 165.23 L227.00 164.83 L228.00 164.45 L229.00 164.09 L230.00 163.73 L231.00 163.38 L232.00 163.02 L233.00 162.67 L234.00 162.32 L235.00 161.98 L236.00 161.65 L237.00 161.34 L238.00 161.05 L239.00 160.77 L240.00 160.51 L241.00 160.25 L242.00 160.00 L243.00 159.75 L244.00 159.50 L245.00 159.25 L246.00 158.99 L247.00 158.71 L248.00 158.41 L249.00 158.04 L250.00 157.61 L251.00 157.09 L252.00 156.51 L253.00 155.89 L254.00 155.28 L255.00 154.74 L256.00 154.29 L257.00 153.95 L258.00 153.71 L259.00 153.55 L260.00 153.44 L261.00 153.35 L262.00 153.29 L263.00 153.28 L264.00 153.33 L265.00 153.47 L266.00 153.71 L267.00 154.04 L268.00 154.44 L269.00 154.87 L270.00 155.32 L271.00 155.77 L272.00 156.24 L273.00 156.72 L274.00 157.25 L275.00 157.83 L276.00 158.47 L277.00 159.18 L278.00 159.93 L279.00 160.71 L280.00 161.50 L281.00 162.30 L282.00 163.10 L283.00 163.90 L284.00 164.70 L285.00 165.50 L286.00 166.30 L287.00 167.10 L288.00 167.90 L289.00 168.70 L290.00 169.50 L291.00 170.30 L292.00 171.10 L293.00 171.90 L294.00 172.70 L295.00 173.50 L296.00 174.31 L297.00 175.12 L298.00 175.94 L299.00 176.79 L300.00 177.67 L301.00 178.59 L302.00 179.54 L303.00 180.52 L304.00 181.51 L305.00 182.50 L306.00 183.50 L307.00 184.50 L308.00 185.50 L309.00 186.49 L310.00 187.49 L311.00 188.47 L312.00 189.43 L313.00 190.38 L314.00 191.32 L315.00 192.24 L316.00 193.14 L317.00 194.05 L318.00 194.95 L319.00 195.85 L320.00 196.75 L321.00 197.65 L322.00 198.54 L323.00 199.43 L324.00 200.30 L325.00 201.16 L326.00 202.00 L327.00 202.83 L328.00 203.64 L329.00 204.45 L330.00 205.25 L331.00 206.05 L332.00 206.85 L333.00 207.64 L334.00 208.43 L335.00 209.20 L336.00 209.93 L337.00 210.61 L338.00 211.23 L339.00 211.78 L340.00 212.28 L341.00 212.74 L342.00 213.17 L343.00 213.56 L344.00 213.92 L345.00 214.21 L346.00 214.45 L347.00 214.63 L348.00 214.77 L349.00 214.89 L350.00 215.00 L351.00 215.10 L352.00 215.20 L353.00 215.31 L354.00 215.42 L355.00 215.54 L356.00 215.67 L357.00 215.81 L358.00 215.95 L359.00 216.10 L360.00 216.25 L361.00 216.40 L362.00 216.55 L363.00 216.69 L364.00 216.83 L365.00 216.96 L366.00 217.08 L367.00 217.19 L368.00 217.30 L369.00 217.40 L370.00 217.50 L371.00 217.60 L372.00 217.70 L373.00 217.81 L374.00 217.92 L375.00 218.04 L376.00 218.17 L377.00 218.31 L378.00 218.45 L379.00 218.60 L380.00 218.75 L381.00 218.90 L382.00 219.04 L383.00 219.17 L384.00 219.28 L385.00 219.37 L386.00 219.43 L387.00 219.47 L388.00 219.49 L389.00 219.50 L390.00 219.50 L391.00 219.50 L392.00 219.50 L393.00 219.49 L394.00 219.48 L395.00 219.46 L396.00 219.43 L397.00 219.39 L398.00 219.35 L399.00 219.31 L400.00 219.27 L401.00 219.24 L402.00 219.21 L403.00 219.18 L404.00 219.15 L405.00 219.13 L406.00 219.10 L407.00 219.08 L408.00 219.05 L409.00 219.03 L410.00 219.00 L411.00 218.98 L412.00 218.95 L413.00 218.93 L414.00 218.90 L415.00 218.87 L416.00 218.84 L417.00 218.81 L418.00 218.75 L419.00 218.67 L420.00 218.56 L421.00 218.40 L422.00 218.20 L423.00 217.98 L424.00 217.74 L425.00 217.50 L426.00 217.25 L427.00 217.01 L428.00 216.77 L429.00 216.54 L430.00 216.32 L431.00 216.12 L432.00 215.93 L433.00 215.76 L434.00 215.59 L435.00 215.42 L436.00 215.25 L437.00 215.08 L438.00 214.92 L439.00 214.75 L440.00 214.58 L441.00 214.41 L442.00 214.24 L443.00 214.05 L444.00 213.84 L445.00 213.61 L446.00 213.34 L447.00 213.05 L448.00 212.74 L449.00 212.41 L450.00 212.08 L451.00 211.75 L452.00 211.42 L453.00 211.08 L454.00 210.75 L455.00 210.42 L456.00 210.08 L457.00 209.75 L458.00 209.41 L459.00 209.06 L460.00 208.71 L461.00 208.36 L462.00 207.99 L463.00 207.62 L464.00 207.25 L465.00 206.87 L466.00 206.49 L467.00 206.11 L468.00 205.70 L469.00 205.26 L470.00 204.78 L471.00 204.26 L472.00 203.70 L473.00 203.11 L474.00 202.49 L475.00 201.87 L476.00 201.25 L477.00 200.63 L478.00 200.03 L479.00 199.43 L480.00 198.86 L481.00 198.31 L482.00 197.78 L483.00 197.26 L484.00 196.75 L485.00 196.25 L486.00 195.74 L487.00 195.23 L488.00 194.70 L489.00 194.14 L490.00 193.53 L491.00 192.89 L492.00 192.20 L493.00 191.48 L494.00 190.74 L495.00 190.00 L496.00 189.24 L497.00 188.47 L498.00 187.68 L499.00 186.85 L500.00 185.97 L501.00 185.03 L502.00 184.04 L503.00 183.00 L504.00 181.92 L505.00 180.79 L506.00 179.60 L507.00 178.33 L508.00 176.97 L509.00 175.52 L510.00 174.03 L511.00 172.50 L512.00 170.96 L513.00 169.44 L514.00 167.95 L515.00 166.52 L516.00 165.14 L517.00 163.81 L518.00 162.52 L519.00 161.26 L520.00 160.00 L521.00 158.75 L522.00 157.50 L523.00 156.25 L524.00 155.00 L525.00 153.75 L526.00 152.50 L527.00 151.25 L528.00 150.00 L529.00 148.75 L530.00 147.50 L531.00 146.25 L532.00 145.00 L533.00 143.76 L534.00 142.53 L535.00 141.33 L536.00 140.17 L537.00 139.08 L538.00 138.06 L539.00 137.10 L540.00 136.18 L541.00 135.30 L542.00 134.43 L543.00 133.56 L544.00 132.69 L545.00 131.82 L546.00 130.95 L547.00 130.07 L548.00 129.15 L549.00 128.19 L550.00 127.17 L551.00 126.08 L552.00 124.92 L553.00 123.72 L554.00 122.49 L555.00 121.25 L556.00 120.00 L557.00 118.75 L558.00 117.51 L559.00 116.28 L560.00 115.07 L561.00 113.91 L562.00 112.81 L563.00 111.77 L564.00 110.79 L565.00 109.85 L566.00 108.95 L567.00 108.06 L568.00 107.19 L569.00 106.35 L570.00 105.52 L571.00 104.71 L572.00 103.92 L573.00 103.14 L574.00 102.38 L575.00 101.65 L576.00 100.98 L577.00 100.39 L578.00 99.87 L579.00 99.43 L580.00 99.05 L581.00 98.72 L582.00 98.42 L583.00 98.16 L584.00 97.94 L585.00 97.75 L586.00 97.59 L587.00 97.43 L588.00 97.29 L589.00 97.14 L590.00 96.99 L591.00 96.85 L592.00 96.70 L593.00 96.55 L594.00 96.40 L595.00 96.25 L596.00 96.10 L597.00 95.95 L598.00 95.81 L599.00 95.67 L600.00 95.54 L601.00 95.42 L602.00 95.31 L603.00 95.20 L604.00 95.10 L605.00 95.00 L606.00 94.91 L607.00 94.82 L608.00 94.74 L609.00 94.69 L610.00 94.67 L611.00 94.69 L612.00 94.74 L613.00 94.82 L614.00 94.91 L615.00 95.00 L616.00 95.10 L617.00 95.21 L618.00 95.33 L619.00 95.47 L620.00 95.63 L621.00 95.82 L622.00 96.03 L623.00 96.26 L624.00 96.50 L625.00 96.75 L626.00 97.00 L627.00 97.26 L628.00 97.52 L629.00 97.78 L630.00 98.06 L631.00 98.36 L632.00 98.67 L633.00 98.98 L634.00 99.30 L635.00 99.62 L636.00 99.94 L637.00 100.26 L638.00 100.56 L639.00 100.83 L640.00 101.08 L641.00 101.28 L642.00 101.46 L643.00 101.61 L644.00 101.74 L645.00 101.87 L646.00 101.99 L647.00 102.11 L648.00 102.20 L649.00 102.26 L650.00 102.28 L651.00 102.26 L652.00 102.20 L653.00 102.11 L654.00 101.99 L655.00 101.88 L656.00 101.76 L657.00 101.65 L658.00 101.56 L659.00 101.51 L660.00 101.51 L661.00 101.56 L662.00 101.66 L663.00 101.80 L664.00 101.96 L665.00 102.13 L666.00 102.30 L667.00 102.47 L668.00 102.63 L669.00 102.78 L670.00 102.91 L671.00 103.03 L672.00 103.13 L673.00 103.22 L674.00 103.30 L675.00 103.37 L676.00 103.44 L677.00 103.51 L678.00 103.55 L679.00 103.56 L680.00 103.53 L681.00 103.46 L682.00 103.35 L683.00 103.21 L684.00 103.04 L685.00 102.87 L686.00 102.69 L687.00 102.49 L688.00 102.27 L689.00 101.99 L690.00 101.66 L691.00 101.24 L692.00 100.77 L693.00 100.24 L694.00 99.69 L695.00 99.12 L696.00 98.55 L697.00 97.98 L698.00 97.42 L699.00 96.86 L700.00 96.31 L701.00 95.78 L702.00 95.27 L703.00 94.76 L704.00 94.25 L705.00 93.75 L706.00 93.25 L707.00 92.76 L708.00 92.29 L709.00 91.83 L710.00 91.40 L711.00 91.00 L712.00 90.64 L713.00 90.29 L714.00 89.95 L715.00 89.63 L716.00 89.30 L717.00 88.99 L718.00 88.68 L719.00 88.39 L720.00 88.13 L721.00 87.89 L722.00 87.68 L723.00 87.49 L724.00 87.30 L725.00 87.12 L726.00 86.94 L727.00 86.75 L728.00 86.53 L729.00 86.26 L730.00 85.94 L731.00 85.55 L732.00 85.10 L733.00 84.61 L734.00 84.10 L735.00 83.57 L736.00 83.04 L737.00 82.50" fill="none" stroke="#3a3aff" stroke-width="1.2" stroke-linejoin="round" stroke-linecap="round" clip-path="url(#cm)"/>
<path d="M-5.00 151.56 L-4.00 153.00 L-3.00 154.44 L-2.00 155.88 L-1.00 157.31 L0.00 158.75 L1.00 160.19 L2.00 161.62 L3.00 163.06 L4.00 164.50 L5.00 165.94 L6.00 167.38 L7.00 168.81 L8.00 170.25 L9.00 171.69 L10.00 173.12 L11.00 174.55 L12.00 175.96 L13.00 177.35 L14.00 178.73 L15.00 180.10 L16.00 181.46 L17.00 182.83 L18.00 184.19 L19.00 185.56 L20.00 186.92 L21.00 188.29 L22.00 189.65 L23.00 190.99 L24.00 192.28 L25.00 193.45 L26.00 194.47 L27.00 195.39 L28.00 196.24 L29.00 197.06 L30.00 197.81 L31.00 198.45 L32.00 198.95 L33.00 199.34 L34.00 199.67 L35.00 199.98 L36.00 200.27 L37.00 200.55 L38.00 200.80 L39.00 201.02 L40.00 201.23 L41.00 201.42 L42.00 201.61 L43.00 201.80 L44.00 201.99 L45.00 202.16 L46.00 202.33 L47.00 202.50 L48.00 202.64 L49.00 202.73 L50.00 202.71 L51.00 202.56 L52.00 202.31 L53.00 201.99 L54.00 201.64 L55.00 201.24 L56.00 200.75 L57.00 200.14 L58.00 199.44 L59.00 198.69 L60.00 197.92 L61.00 197.13 L62.00 196.32 L63.00 195.48 L64.00 194.60 L65.00 193.69 L66.00 192.77 L67.00 191.86 L68.00 190.98 L69.00 190.15 L70.00 189.39 L71.00 188.68 L72.00 188.00 L73.00 187.32 L74.00 186.63 L75.00 185.90 L76.00 185.13 L77.00 184.32 L78.00 183.50 L79.00 182.65 L80.00 181.78 L81.00 180.84 L82.00 179.83 L83.00 178.75 L84.00 177.65 L85.00 176.56 L86.00 175.51 L87.00 174.58 L88.00 173.81 L89.00 173.20 L90.00 172.71 L91.00 172.27 L92.00 171.86 L93.00 171.46 L94.00 171.10 L95.00 170.79 L96.00 170.51 L97.00 170.25 L98.00 170.00 L99.00 169.75 L100.00 169.50 L101.00 169.25 L102.00 169.00 L103.00 168.75 L104.00 168.51 L105.00 168.28 L106.00 168.07 L107.00 167.91 L108.00 167.79 L109.00 167.75 L110.00 167.86 L111.00 168.13 L112.00 168.53 L113.00 169.02 L114.00 169.57 L115.00 170.19 L116.00 170.90 L117.00 171.68 L118.00 172.50 L119.00 173.30 L120.00 174.03 L121.00 174.62 L122.00 175.03 L123.00 175.30 L124.00 175.50 L125.00 175.67 L126.00 175.86 L127.00 176.08 L128.00 176.33 L129.00 176.61 L130.00 176.92 L131.00 177.27 L132.00 177.69 L133.00 178.21 L134.00 178.79 L135.00 179.42 L136.00 180.06 L137.00 180.73 L138.00 181.44 L139.00 182.17 L140.00 182.93 L141.00 183.69 L142.00 184.44 L143.00 185.13 L144.00 185.73 L145.00 186.20 L146.00 186.57 L147.00 186.86 L148.00 187.05 L149.00 187.09 L150.00 186.94 L151.00 186.63 L152.00 186.24 L153.00 185.82 L154.00 185.36 L155.00 184.83 L156.00 184.22 L157.00 183.56 L158.00 182.85 L159.00 182.14 L160.00 181.42 L161.00 180.68 L162.00 179.90 L163.00 179.07 L164.00 178.21 L165.00 177.32 L166.00 176.43 L167.00 175.55 L168.00 174.71 L169.00 173.95 L170.00 173.28 L171.00 172.68 L172.00 172.13 L173.00 171.62 L174.00 171.17 L175.00 170.86 L176.00 170.71 L177.00 170.70 L178.00 170.76 L179.00 170.86 L180.00 171.04 L181.00 171.33 L182.00 171.79 L183.00 172.36 L184.00 173.00 L185.00 173.62 L186.00 174.16 L187.00 174.52 L188.00 174.65 L189.00 174.60 L190.00 174.46 L191.00 174.29 L192.00 174.12 L193.00 173.98 L194.00 173.90 L195.00 173.89 L196.00 173.93 L197.00 174.00 L198.00 174.07 L199.00 174.12 L200.00 174.11 L201.00 174.03 L202.00 173.90 L203.00 173.74 L204.00 173.55 L205.00 173.30 L206.00 172.92 L207.00 172.38 L208.00 171.72 L209.00 170.99 L210.00 170.23 L211.00 169.43 L212.00 168.57 L213.00 167.61 L214.00 166.59 L215.00 165.53 L216.00 164.46 L217.00 163.38 L218.00 162.28 L219.00 161.15 L220.00 159.96 L221.00 158.74 L222.00 157.50 L223.00 156.27 L224.00 155.09 L225.00 153.99 L226.00 153.00 L227.00 152.10 L228.00 151.25 L229.00 150.43 L230.00 149.63 L231.00 148.87 L232.00 148.17 L233.00 147.51 L234.00 146.88 L235.00 146.28 L236.00 145.73 L237.00 145.30 L238.00 145.00 L239.00 144.81 L240.00 144.68 L241.00 144.58 L242.00 144.49 L243.00 144.46 L244.00 144.55 L245.00 144.77 L246.00 145.11 L247.00 145.51 L248.00 145.93 L249.00 146.40 L250.00 146.94 L251.00 147.57 L252.00 148.27 L253.00 149.00 L254.00 149.75 L255.00 150.49 L256.00 151.23 L257.00 151.95 L258.00 152.66 L259.00 153.38 L260.00 154.11 L261.00 154.89 L262.00 155.77 L263.00 156.77 L264.00 157.88 L265.00 159.04 L266.00 160.21 L267.00 161.40 L268.00 162.59 L269.00 163.79 L270.00 165.01 L271.00 166.25 L272.00 167.51 L273.00 168.78 L274.00 170.13 L275.00 171.61 L276.00 173.25 L277.00 175.03 L278.00 176.88 L279.00 178.73 L280.00 180.56 L281.00 182.31 L282.00 183.97 L283.00 185.56 L284.00 187.11 L285.00 188.64 L286.00 190.14 L287.00 191.58 L288.00 192.93 L289.00 194.18 L290.00 195.37 L291.00 196.54 L292.00 197.68 L293.00 198.80 L294.00 199.86 L295.00 200.87 L296.00 201.82 L297.00 202.75 L298.00 203.65 L299.00 204.53 L300.00 205.36 L301.00 206.12 L302.00 206.82 L303.00 207.50 L304.00 208.15 L305.00 208.75 L306.00 209.27 L307.00 209.69 L308.00 210.02 L309.00 210.30 L310.00 210.58 L311.00 210.85 L312.00 211.12 L313.00 211.38 L314.00 211.65 L315.00 211.92 L316.00 212.19 L317.00 212.46 L318.00 212.73 L319.00 212.99 L320.00 213.25 L321.00 213.50 L322.00 213.75 L323.00 214.01 L324.00 214.30 L325.00 214.64 L326.00 215.05 L327.00 215.51 L328.00 216.00 L329.00 216.48 L330.00 216.94 L331.00 217.32 L332.00 217.63 L333.00 217.87 L334.00 218.08 L335.00 218.28 L336.00 218.52 L337.00 218.83 L338.00 219.25 L339.00 219.78 L340.00 220.36 L341.00 220.92 L342.00 221.36 L343.00 221.61 L344.00 221.67 L345.00 221.60 L346.00 221.46 L347.00 221.29 L348.00 221.10 L349.00 220.89 L350.00 220.66 L351.00 220.43 L352.00 220.20 L353.00 219.97 L354.00 219.74 L355.00 219.52 L356.00 219.31 L357.00 219.10 L358.00 218.90 L359.00 218.70 L360.00 218.50 L361.00 218.31 L362.00 218.14 L363.00 217.99 L364.00 217.86 L365.00 217.75 L366.00 217.65 L367.00 217.55 L368.00 217.45 L369.00 217.35 L370.00 217.26 L371.00 217.21 L372.00 217.22 L373.00 217.33 L374.00 217.56 L375.00 217.85 L376.00 218.17 L377.00 218.50 L378.00 218.82 L379.00 219.11 L380.00 219.35 L381.00 219.51 L382.00 219.62 L383.00 219.70 L384.00 219.77 L385.00 219.83 L386.00 219.89 L387.00 219.94 L388.00 219.97 L389.00 219.99 L390.00 220.00 L391.00 220.00 L392.00 220.00 L393.00 219.99 L394.00 219.97 L395.00 219.91 L396.00 219.82 L397.00 219.69 L398.00 219.56 L399.00 219.43 L400.00 219.32 L401.00 219.25 L402.00 219.20 L403.00 219.17 L404.00 219.14 L405.00 219.12 L406.00 219.09 L407.00 219.07 L408.00 219.04 L409.00 219.01 L410.00 218.99 L411.00 218.96 L412.00 218.93 L413.00 218.91 L414.00 218.88 L415.00 218.86 L416.00 218.82 L417.00 218.76 L418.00 218.61 L419.00 218.29 L420.00 217.75 L421.00 217.04 L422.00 216.24 L423.00 215.42 L424.00 214.58 L425.00 213.75 L426.00 212.92 L427.00 212.08 L428.00 211.25 L429.00 210.43 L430.00 209.63 L431.00 208.87 L432.00 208.17 L433.00 207.51 L434.00 206.88 L435.00 206.26 L436.00 205.67 L437.00 205.11 L438.00 204.61 L439.00 204.15 L440.00 203.72 L441.00 203.29 L442.00 202.88 L443.00 202.53 L444.00 202.29 L445.00 202.19 L446.00 202.19 L447.00 202.25 L448.00 202.34 L449.00 202.43 L450.00 202.52 L451.00 202.63 L452.00 202.75 L453.00 202.87 L454.00 202.99 L455.00 203.07 L456.00 203.11 L457.00 203.07 L458.00 202.99 L459.00 202.87 L460.00 202.72 L461.00 202.50 L462.00 202.16 L463.00 201.67 L464.00 201.04 L465.00 200.35 L466.00 199.64 L467.00 198.92 L468.00 198.19 L469.00 197.43 L470.00 196.64 L471.00 195.83 L472.00 195.00 L473.00 194.17 L474.00 193.33 L475.00 192.50 L476.00 191.67 L477.00 190.83 L478.00 190.00 L479.00 189.16 L480.00 188.29 L481.00 187.38 L482.00 186.42 L483.00 185.41 L484.00 184.37 L485.00 183.32 L486.00 182.25 L487.00 181.13 L488.00 179.96 L489.00 178.74 L490.00 177.50 L491.00 176.25 L492.00 174.99 L493.00 173.71 L494.00 172.38 L495.00 171.00 L496.00 169.57 L497.00 168.12 L498.00 166.65 L499.00 165.12 L500.00 163.51 L501.00 161.79 L502.00 159.98 L503.00 158.13 L504.00 156.28 L505.00 154.49 L506.00 152.78 L507.00 151.06 L508.00 149.14 L509.00 146.88 L510.00 144.33 L511.00 141.68 L512.00 139.11 L513.00 136.70 L514.00 134.46 L515.00 132.38 L516.00 130.54 L517.00 128.94 L518.00 127.55 L519.00 126.26 L520.00 125.00 L521.00 123.75 L522.00 122.50 L523.00 121.25 L524.00 120.01 L525.00 118.79 L526.00 117.65 L527.00 116.68 L528.00 115.90 L529.00 115.29 L530.00 114.76 L531.00 114.25 L532.00 113.75 L533.00 113.25 L534.00 112.76 L535.00 112.28 L536.00 111.89 L537.00 111.64 L538.00 111.57 L539.00 111.64 L540.00 111.79 L541.00 111.96 L542.00 112.09 L543.00 112.11 L544.00 111.92 L545.00 111.48 L546.00 110.85 L547.00 110.18 L548.00 109.57 L549.00 109.02 L550.00 108.50 L551.00 107.97 L552.00 107.43 L553.00 106.85 L554.00 106.22 L555.00 105.54 L556.00 104.76 L557.00 103.87 L558.00 102.90 L559.00 101.87 L560.00 100.85 L561.00 99.86 L562.00 98.94 L563.00 98.10 L564.00 97.34 L565.00 96.61 L566.00 95.89 L567.00 95.17 L568.00 94.44 L569.00 93.68 L570.00 92.89 L571.00 92.08 L572.00 91.25 L573.00 90.44 L574.00 89.68 L575.00 89.01 L576.00 88.47 L577.00 88.02 L578.00 87.63 L579.00 87.28 L580.00 87.00 L581.00 86.86 L582.00 86.88 L583.00 87.05 L584.00 87.33 L585.00 87.70 L586.00 88.17 L587.00 88.71 L588.00 89.28 L589.00 89.80 L590.00 90.22 L591.00 90.51 L592.00 90.69 L593.00 90.82 L594.00 90.93 L595.00 91.05 L596.00 91.20 L597.00 91.42 L598.00 91.72 L599.00 92.08 L600.00 92.47 L601.00 92.87 L602.00 93.28 L603.00 93.67 L604.00 94.04 L605.00 94.35 L606.00 94.59 L607.00 94.77 L608.00 94.93 L609.00 95.07 L610.00 95.23 L611.00 95.41 L612.00 95.65 L613.00 95.96 L614.00 96.33 L615.00 96.72 L616.00 97.13 L617.00 97.53 L618.00 97.96 L619.00 98.44 L620.00 99.03 L621.00 99.74 L622.00 100.56 L623.00 101.43 L624.00 102.32 L625.00 103.20 L626.00 104.04 L627.00 104.81 L628.00 105.49 L629.00 106.11 L630.00 106.68 L631.00 107.25 L632.00 107.81 L633.00 108.35 L634.00 108.82 L635.00 109.18 L636.00 109.38 L637.00 109.47 L638.00 109.50 L639.00 109.50 L640.00 109.48 L641.00 109.42 L642.00 109.27 L643.00 109.01 L644.00 108.67 L645.00 108.28 L646.00 107.88 L647.00 107.47 L648.00 107.05 L649.00 106.59 L650.00 106.07 L651.00 105.47 L652.00 104.81 L653.00 104.10 L654.00 103.40 L655.00 102.70 L656.00 102.07 L657.00 101.53 L658.00 101.13 L659.00 100.84 L660.00 100.60 L661.00 100.38 L662.00 100.16 L663.00 99.94 L664.00 99.72 L665.00 99.50 L666.00 99.29 L667.00 99.07 L668.00 98.86 L669.00 98.64 L670.00 98.43 L671.00 98.22 L672.00 98.01 L673.00 97.80 L674.00 97.61 L675.00 97.43 L676.00 97.32 L677.00 97.33 L678.00 97.49 L679.00 97.78 L680.00 98.13 L681.00 98.50 L682.00 98.87 L683.00 99.23 L684.00 99.53 L685.00 99.73 L686.00 99.80 L687.00 99.77 L688.00 99.68 L689.00 99.54 L690.00 99.33 L691.00 99.04 L692.00 98.68 L693.00 98.25 L694.00 97.73 L695.00 97.01 L696.00 96.08 L697.00 94.96 L698.00 93.76 L699.00 92.55 L700.00 91.39 L701.00 90.30 L702.00 89.26 L703.00 88.25 L704.00 87.24 L705.00 86.21 L706.00 85.16 L707.00 84.10 L708.00 83.04 L709.00 81.96 L710.00 80.90 L711.00 79.84 L712.00 78.79 L713.00 77.76 L714.00 76.76 L715.00 75.76 L716.00 74.80 L717.00 73.89 L718.00 73.05 L719.00 72.27 L720.00 71.55 L721.00 70.95 L722.00 70.57 L723.00 70.45 L724.00 70.55 L725.00 70.77 L726.00 71.05 L727.00 71.39 L728.00 71.80 L729.00 72.26 L730.00 72.75 L731.00 73.25 L732.00 73.75 L733.00 74.25 L734.00 74.75 L735.00 75.25 L736.00 75.75 L737.00 76.25" fill="none" stroke="#ff2cff" stroke-width="1.2" stroke-linejoin="round" stroke-linecap="round" clip-path="url(#cm)"/>
<path d="M-5.00 43.27 L767.00 79.40" fill="none" stroke="#cc3a3a" stroke-width="1.35" stroke-linejoin="round" stroke-linecap="round" clip-path="url(#cm)"/>
<path d="M-5.00 214.27 L600.00 242.25" fill="none" stroke="#cc3a3a" stroke-width="1.35" stroke-linejoin="round" stroke-linecap="round" clip-path="url(#cm)"/>
<path d="M205.00 131.25 L720.00 126.90" fill="none" stroke="#cc3a3a" stroke-width="1.35" stroke-linejoin="round" stroke-linecap="round" clip-path="url(#cm)"/>
<path d="M35.50 173.75 L767.00 71.50" fill="none" stroke="#ffcaca" stroke-width="1.3" stroke-linejoin="round" stroke-linecap="round" clip-path="url(#cm)"/>
<path d="M57.00 152.75 L723.00 47.80" fill="none" stroke="#25c825" stroke-width="1.3" stroke-linejoin="round" stroke-linecap="round" clip-path="url(#cm)"/>
<path d="M18.00 213.75 L767.00 107.00" fill="none" stroke="#25c825" stroke-width="1.3" stroke-linejoin="round" stroke-linecap="round" clip-path="url(#cm)"/>
<path d="M393.00 240.60 L751.25 80.00" fill="none" stroke="#25c825" stroke-width="1.3" stroke-linejoin="round" stroke-linecap="round" clip-path="url(#cm)"/>
<path d="M584.50 112.00 L744.50 39.80" fill="none" stroke="#25c825" stroke-width="1.3" stroke-linejoin="round" stroke-linecap="round" clip-path="url(#cm)"/>
<circle cx="57.00" cy="152.75" r="1.9" fill="#fff" fill-opacity="0.6" stroke="#555" stroke-width="0.8"/>
<circle cx="35.50" cy="173.75" r="1.9" fill="#fff" fill-opacity="0.6" stroke="#888" stroke-width="0.8"/>
<circle cx="18.00" cy="213.75" r="1.9" fill="#fff" fill-opacity="0.6" stroke="#555" stroke-width="0.8"/>
<circle cx="205.00" cy="131.25" r="1.9" fill="#fff" fill-opacity="0.6" stroke="#555" stroke-width="0.8"/>
<circle cx="720.00" cy="126.90" r="1.9" fill="#fff" fill-opacity="0.6" stroke="#555" stroke-width="0.8"/>
<circle cx="723.00" cy="47.80" r="1.9" fill="#fff" fill-opacity="0.6" stroke="#555" stroke-width="0.8"/>
<circle cx="751.25" cy="80.00" r="1.9" fill="#fff" fill-opacity="0.6" stroke="#555" stroke-width="0.8"/>
<circle cx="584.50" cy="112.00" r="1.9" fill="#fff" fill-opacity="0.6" stroke="#555" stroke-width="0.8"/>
<path d="M742.8 40.4l1.8 1.2l1.8 -1.6" stroke="#888" stroke-width="0.7" fill="none"/>
<rect x="-4" y="240.5" width="771.5" height="1.2" fill="#9a9a9a"/>
<path d="M742.90 237.60h5.2l-2.6 -4z" fill="#bdbdbd"/>
<path d="M767.60 233.60v5.2l-4 -2.6z" fill="#bdbdbd"/>
<path d="M767.60 60.60v5.2l-4 -2.6z" fill="#bdbdbd"/>
<text x="770.50" y="224.60" fill="#26802a" stroke="#26802a" stroke-width="0.16" textLength="26.50" lengthAdjust="spacingAndGlyphs">102.00</text>
<text x="770.50" y="209.84" fill="#26802a" stroke="#26802a" stroke-width="0.16" textLength="26.50" lengthAdjust="spacingAndGlyphs">104.00</text>
<text x="770.50" y="195.08" fill="#26802a" stroke="#26802a" stroke-width="0.16" textLength="26.50" lengthAdjust="spacingAndGlyphs">106.00</text>
<text x="770.50" y="180.32" fill="#26802a" stroke="#26802a" stroke-width="0.16" textLength="26.50" lengthAdjust="spacingAndGlyphs">108.00</text>
<text x="770.50" y="165.57" fill="#26802a" stroke="#26802a" stroke-width="0.16" textLength="26.50" lengthAdjust="spacingAndGlyphs">110.00</text>
<text x="770.50" y="150.81" fill="#26802a" stroke="#26802a" stroke-width="0.16" textLength="26.50" lengthAdjust="spacingAndGlyphs">112.00</text>
<text x="770.50" y="136.05" fill="#26802a" stroke="#26802a" stroke-width="0.16" textLength="26.50" lengthAdjust="spacingAndGlyphs">114.00</text>
<text x="770.50" y="121.29" fill="#26802a" stroke="#26802a" stroke-width="0.16" textLength="26.50" lengthAdjust="spacingAndGlyphs">116.00</text>
<text x="770.50" y="106.53" fill="#26802a" stroke="#26802a" stroke-width="0.16" textLength="26.50" lengthAdjust="spacingAndGlyphs">118.00</text>
<text x="770.50" y="91.77" fill="#26802a" stroke="#26802a" stroke-width="0.16" textLength="26.50" lengthAdjust="spacingAndGlyphs">120.00</text>
<text x="770.50" y="62.26" fill="#26802a" stroke="#26802a" stroke-width="0.16" textLength="26.50" lengthAdjust="spacingAndGlyphs">124.00</text>
<text x="770.50" y="46.70" fill="#26802a" stroke="#26802a" stroke-width="0.16" textLength="26.50" lengthAdjust="spacingAndGlyphs">126.00</text>
<rect x="769.3" y="70.8" width="29" height="13" rx="2.6" fill="#fff" stroke="#444" stroke-width="1.1"/>
<text x="771.60" y="80.60" fill="#111" stroke="#111" stroke-width="0.16" textLength="24.60" lengthAdjust="spacingAndGlyphs">121.71</text>
<rect x="2.6" y="244.3" width="11" height="10.8" rx="1" fill="#fff" stroke="#8a8a8a" stroke-width="0.9"/>
<text x="5.30" y="253.00" fill="#444" stroke="#444" stroke-width="0.16" textLength="5.60" lengthAdjust="spacingAndGlyphs" style="font-size:7.6px">X</text>
<text x="22.00" y="254.20" fill="#ff2cff" stroke="#ff2cff" stroke-width="0.16" textLength="42.50" lengthAdjust="spacingAndGlyphs">MACD 6 13</text>
<path d="M67.50 249.80h5l-2.50 3.2z" fill="#777"/>
<text x="79.00" y="254.20" fill="#2a2a9c" stroke="#2a2a9c" stroke-width="0.16" textLength="85.50" lengthAdjust="spacingAndGlyphs">Exp Moving Average 9</text>
<path d="M168.00 249.80h5l-2.50 3.2z" fill="#777"/>
<path class="h" d="M-4 268.2H752"/>
<path class="h" d="M-4 282.6H752"/>
<path class="h" d="M-4 310.4H752"/>
<path d="M-4.4 296.2H750" stroke="#86a886" stroke-width="1" stroke-dasharray="7.2 4.2" fill="none"/>
<path d="M-5.00 299.04 L-4.00 300.08 L-3.00 301.12 L-2.00 302.17 L-1.00 303.21 L0.00 304.25 L1.00 305.29 L2.00 306.33 L3.00 307.38 L4.00 308.42 L5.00 309.43 L6.00 310.32 L7.00 310.95 L8.00 311.44 L9.00 311.91 L10.00 312.38 L11.00 312.84 L12.00 313.31 L13.00 313.75 L14.00 314.01 L15.00 313.93 L16.00 313.67 L17.00 313.38 L18.00 313.08 L19.00 312.78 L20.00 312.44 L21.00 312.03 L22.00 311.57 L23.00 311.11 L24.00 310.64 L25.00 310.18 L26.00 309.72 L27.00 309.30 L28.00 308.94 L29.00 308.63 L30.00 308.31 L31.00 308.00 L32.00 307.69 L33.00 307.38 L34.00 307.07 L35.00 306.81 L36.00 306.62 L37.00 306.47 L38.00 306.33 L39.00 306.19 L40.00 306.06 L41.00 305.92 L42.00 305.78 L43.00 305.63 L44.00 305.39 L45.00 305.02 L46.00 304.56 L47.00 304.09 L48.00 303.63 L49.00 303.16 L50.00 302.69 L51.00 302.21 L52.00 301.70 L53.00 301.12 L54.00 300.50 L55.00 299.88 L56.00 299.25 L57.00 298.63 L58.00 298.00 L59.00 297.38 L60.00 296.76 L61.00 296.14 L62.00 295.54 L63.00 294.93 L64.00 294.32 L65.00 293.72 L66.00 293.13 L67.00 292.66 L68.00 292.43 L69.00 292.31 L70.00 292.22 L71.00 292.13 L72.00 292.03 L73.00 291.94 L74.00 291.83 L75.00 291.67 L76.00 291.39 L77.00 291.05 L78.00 290.70 L79.00 290.33 L80.00 289.87 L81.00 289.23 L82.00 288.50 L83.00 287.75 L84.00 287.00 L85.00 286.26 L86.00 285.61 L87.00 285.11 L88.00 284.70 L89.00 284.30 L90.00 283.93 L91.00 283.75 L92.00 283.91 L93.00 284.25 L94.00 284.66 L95.00 285.28 L96.00 286.29 L97.00 287.50 L98.00 288.71 L99.00 289.67 L100.00 290.17 L101.00 290.41 L102.00 290.62 L103.00 290.83 L104.00 291.04 L105.00 291.21 L106.00 291.32 L107.00 291.39 L108.00 291.46 L109.00 291.54 L110.00 291.61 L111.00 291.69 L112.00 291.81 L113.00 292.01 L114.00 292.25 L115.00 292.50 L116.00 292.75 L117.00 293.00 L118.00 293.26 L119.00 293.55 L120.00 293.92 L121.00 294.33 L122.00 294.75 L123.00 295.17 L124.00 295.59 L125.00 296.02 L126.00 296.47 L127.00 296.93 L128.00 297.39 L129.00 297.86 L130.00 298.32 L131.00 298.77 L132.00 299.16 L133.00 299.42 L134.00 299.61 L135.00 299.79 L136.00 299.96 L137.00 300.14 L138.00 300.32 L139.00 300.51 L140.00 300.71 L141.00 300.92 L142.00 301.12 L143.00 301.33 L144.00 301.50 L145.00 301.41 L146.00 300.86 L147.00 300.05 L148.00 299.20 L149.00 298.36 L150.00 297.56 L151.00 296.86 L152.00 296.20 L153.00 295.55 L154.00 294.92 L155.00 294.41 L156.00 294.12 L157.00 293.95 L158.00 293.80 L159.00 293.66 L160.00 293.60 L161.00 293.66 L162.00 293.80 L163.00 293.95 L164.00 294.07 L165.00 294.01 L166.00 293.61 L167.00 293.03 L168.00 292.43 L169.00 291.82 L170.00 291.22 L171.00 290.65 L172.00 290.31 L173.00 290.39 L174.00 290.70 L175.00 291.05 L176.00 291.41 L177.00 291.85 L178.00 292.41 L179.00 293.05 L180.00 293.70 L181.00 294.34 L182.00 294.95 L183.00 295.49 L184.00 296.00 L185.00 296.50 L186.00 297.00 L187.00 297.47 L188.00 297.73 L189.00 297.63 L190.00 297.33 L191.00 297.00 L192.00 296.67 L193.00 296.33 L194.00 295.96 L195.00 295.53 L196.00 295.07 L197.00 294.60 L198.00 294.13 L199.00 293.67 L200.00 293.25 L201.00 292.89 L202.00 292.57 L203.00 292.26 L204.00 291.94 L205.00 291.63 L206.00 291.31 L207.00 290.98 L208.00 290.62 L209.00 290.25 L210.00 289.88 L211.00 289.50 L212.00 289.13 L213.00 288.75 L214.00 288.36 L215.00 287.88 L216.00 287.23 L217.00 286.50 L218.00 285.75 L219.00 285.02 L220.00 284.43 L221.00 284.09 L222.00 283.88 L223.00 283.71 L224.00 283.69 L225.00 283.94 L226.00 284.33 L227.00 284.75 L228.00 285.17 L229.00 285.59 L230.00 286.02 L231.00 286.47 L232.00 286.93 L233.00 287.39 L234.00 287.86 L235.00 288.32 L236.00 288.78 L237.00 289.20 L238.00 289.56 L239.00 289.87 L240.00 290.19 L241.00 290.50 L242.00 290.81 L243.00 291.13 L244.00 291.44 L245.00 291.76 L246.00 292.11 L247.00 292.46 L248.00 292.82 L249.00 293.18 L250.00 293.54 L251.00 293.90 L252.00 294.31 L253.00 294.79 L254.00 295.31 L255.00 295.84 L256.00 296.38 L257.00 296.91 L258.00 297.44 L259.00 297.98 L260.00 298.56 L261.00 299.22 L262.00 299.93 L263.00 300.64 L264.00 301.36 L265.00 302.07 L266.00 302.79 L267.00 303.50 L268.00 304.22 L269.00 304.94 L270.00 305.66 L271.00 306.38 L272.00 307.09 L273.00 307.81 L274.00 308.52 L275.00 309.19 L276.00 309.78 L277.00 310.33 L278.00 310.88 L279.00 311.42 L280.00 311.94 L281.00 312.35 L282.00 312.56 L283.00 312.67 L284.00 312.75 L285.00 312.83 L286.00 312.91 L287.00 312.92 L288.00 312.83 L289.00 312.69 L290.00 312.53 L291.00 312.38 L292.00 312.22 L293.00 312.06 L294.00 311.90 L295.00 311.72 L296.00 311.50 L297.00 311.25 L298.00 311.00 L299.00 310.75 L300.00 310.50 L301.00 310.25 L302.00 310.03 L303.00 309.85 L304.00 309.70 L305.00 309.55 L306.00 309.38 L307.00 309.09 L308.00 308.58 L309.00 307.95 L310.00 307.30 L311.00 306.67 L312.00 306.16 L313.00 305.88 L314.00 305.72 L315.00 305.57 L316.00 305.43 L317.00 305.29 L318.00 305.14 L319.00 304.97 L320.00 304.75 L321.00 304.50 L322.00 304.25 L323.00 304.00 L324.00 303.77 L325.00 303.68 L326.00 303.82 L327.00 304.10 L328.00 304.40 L329.00 304.67 L330.00 304.80 L331.00 304.64 L332.00 304.33 L333.00 304.00 L334.00 303.67 L335.00 303.36 L336.00 303.19 L337.00 303.27 L338.00 303.50 L339.00 303.75 L340.00 303.95 L341.00 303.85 L342.00 303.20 L343.00 302.25 L344.00 301.25 L345.00 300.28 L346.00 299.50 L347.00 299.07 L348.00 298.83 L349.00 298.63 L350.00 298.42 L351.00 298.21 L352.00 298.00 L353.00 297.79 L354.00 297.58 L355.00 297.38 L356.00 297.17 L357.00 296.96 L358.00 296.78 L359.00 296.65 L360.00 296.54 L361.00 296.43 L362.00 296.32 L363.00 296.22 L364.00 296.13 L365.00 296.16 L366.00 296.42 L367.00 296.80 L368.00 297.20 L369.00 297.58 L370.00 297.84 L371.00 297.88 L372.00 297.80 L373.00 297.70 L374.00 297.62 L375.00 297.64 L376.00 297.87 L377.00 298.20 L378.00 298.55 L379.00 298.87 L380.00 299.02 L381.00 298.86 L382.00 298.53 L383.00 298.18 L384.00 297.82 L385.00 297.46 L386.00 297.12 L387.00 296.81 L388.00 296.60 L389.00 296.44 L390.00 296.28 L391.00 296.12 L392.00 295.97 L393.00 295.81 L394.00 295.66 L395.00 295.55 L396.00 295.51 L397.00 295.50 L398.00 295.50 L399.00 295.51 L400.00 295.58 L401.00 295.76 L402.00 296.00 L403.00 296.25 L404.00 296.50 L405.00 296.75 L406.00 297.00 L407.00 297.25 L408.00 297.50 L409.00 297.72 L410.00 297.78 L411.00 297.54 L412.00 297.14 L413.00 296.71 L414.00 296.29 L415.00 295.86 L416.00 295.41 L417.00 294.85 L418.00 294.08 L419.00 293.20 L420.00 292.30 L421.00 291.42 L422.00 290.63 L423.00 290.02 L424.00 289.50 L425.00 289.00 L426.00 288.52 L427.00 288.16 L428.00 288.02 L429.00 288.00 L430.00 288.00 L431.00 288.02 L432.00 288.13 L433.00 288.42 L434.00 288.80 L435.00 289.20 L436.00 289.60 L437.00 289.99 L438.00 290.37 L439.00 290.75 L440.00 291.12 L441.00 291.50 L442.00 291.88 L443.00 292.25 L444.00 292.61 L445.00 292.90 L446.00 293.06 L447.00 293.14 L448.00 293.21 L449.00 293.29 L450.00 293.36 L451.00 293.42 L452.00 293.41 L453.00 293.27 L454.00 293.06 L455.00 292.84 L456.00 292.62 L457.00 292.41 L458.00 292.19 L459.00 291.96 L460.00 291.66 L461.00 291.24 L462.00 290.75 L463.00 290.25 L464.00 289.76 L465.00 289.30 L466.00 288.91 L467.00 288.55 L468.00 288.20 L469.00 287.87 L470.00 287.66 L471.00 287.66 L472.00 287.79 L473.00 287.93 L474.00 288.07 L475.00 288.21 L476.00 288.34 L477.00 288.38 L478.00 288.27 L479.00 288.06 L480.00 287.84 L481.00 287.63 L482.00 287.41 L483.00 287.19 L484.00 286.96 L485.00 286.65 L486.00 286.20 L487.00 285.68 L488.00 285.14 L489.00 284.61 L490.00 284.07 L491.00 283.53 L492.00 282.95 L493.00 282.31 L494.00 281.62 L495.00 280.94 L496.00 280.25 L497.00 279.56 L498.00 278.88 L499.00 278.20 L500.00 277.59 L501.00 277.11 L502.00 276.70 L503.00 276.30 L504.00 275.91 L505.00 275.57 L506.00 275.34 L507.00 275.10 L508.00 274.44 L509.00 273.01 L510.00 271.22 L511.00 269.68 L512.00 268.73 L513.00 268.18 L514.00 268.22 L515.00 269.26 L516.00 270.81 L517.00 272.29 L518.00 273.47 L519.00 274.45 L520.00 275.15 L521.00 275.35 L522.00 275.30 L523.00 275.20 L524.00 275.14 L525.00 275.30 L526.00 275.89 L527.00 276.70 L528.00 277.55 L529.00 278.39 L530.00 279.14 L531.00 279.74 L532.00 280.25 L533.00 280.75 L534.00 281.23 L535.00 281.62 L536.00 281.84 L537.00 281.96 L538.00 282.07 L539.00 282.18 L540.00 282.29 L541.00 282.40 L542.00 282.58 L543.00 282.86 L544.00 283.20 L545.00 283.55 L546.00 283.89 L547.00 284.17 L548.00 284.33 L549.00 284.44 L550.00 284.53 L551.00 284.62 L552.00 284.72 L553.00 284.81 L554.00 284.89 L555.00 284.84 L556.00 284.58 L557.00 284.20 L558.00 283.80 L559.00 283.41 L560.00 283.10 L561.00 282.94 L562.00 282.86 L563.00 282.79 L564.00 282.71 L565.00 282.64 L566.00 282.59 L567.00 282.62 L568.00 282.83 L569.00 283.13 L570.00 283.44 L571.00 283.75 L572.00 284.06 L573.00 284.38 L574.00 284.69 L575.00 285.01 L576.00 285.35 L577.00 285.70 L578.00 286.05 L579.00 286.43 L580.00 286.96 L581.00 287.78 L582.00 288.75 L583.00 289.75 L584.00 290.72 L585.00 291.54 L586.00 292.07 L587.00 292.45 L588.00 292.80 L589.00 293.12 L590.00 293.28 L591.00 293.12 L592.00 292.80 L593.00 292.45 L594.00 292.12 L595.00 291.94 L596.00 292.02 L597.00 292.25 L598.00 292.50 L599.00 292.75 L600.00 293.00 L601.00 293.25 L602.00 293.50 L603.00 293.75 L604.00 294.02 L605.00 294.41 L606.00 295.02 L607.00 295.75 L608.00 296.50 L609.00 297.25 L610.00 297.97 L611.00 298.64 L612.00 299.29 L613.00 299.93 L614.00 300.57 L615.00 301.21 L616.00 301.80 L617.00 302.09 L618.00 301.80 L619.00 301.20 L620.00 300.55 L621.00 299.93 L622.00 299.46 L623.00 299.28 L624.00 299.25 L625.00 299.25 L626.00 299.26 L627.00 299.36 L628.00 299.61 L629.00 299.95 L630.00 300.30 L631.00 300.65 L632.00 300.97 L633.00 301.24 L634.00 301.47 L635.00 301.51 L636.00 301.22 L637.00 300.75 L638.00 300.25 L639.00 299.75 L640.00 299.25 L641.00 298.75 L642.00 298.25 L643.00 297.75 L644.00 297.24 L645.00 296.67 L646.00 295.99 L647.00 295.25 L648.00 294.50 L649.00 293.76 L650.00 293.11 L651.00 292.61 L652.00 292.20 L653.00 291.80 L654.00 291.43 L655.00 291.22 L656.00 291.33 L657.00 291.60 L658.00 291.90 L659.00 292.21 L660.00 292.60 L661.00 293.11 L662.00 293.70 L663.00 294.30 L664.00 294.88 L665.00 295.34 L666.00 295.58 L667.00 295.70 L668.00 295.80 L669.00 295.88 L670.00 295.86 L671.00 295.63 L672.00 295.30 L673.00 294.95 L674.00 294.61 L675.00 294.31 L676.00 294.11 L677.00 293.95 L678.00 293.80 L679.00 293.67 L680.00 293.64 L681.00 293.82 L682.00 294.10 L683.00 294.40 L684.00 294.69 L685.00 294.94 L686.00 295.09 L687.00 295.20 L688.00 295.30 L689.00 295.38 L690.00 295.34 L691.00 295.08 L692.00 294.70 L693.00 294.30 L694.00 293.87 L695.00 293.28 L696.00 292.37 L697.00 291.30 L698.00 290.20 L699.00 289.11 L700.00 288.11 L701.00 287.26 L702.00 286.50 L703.00 285.75 L704.00 285.02 L705.00 284.43 L706.00 284.09 L707.00 283.88 L708.00 283.71 L709.00 283.66 L710.00 283.82 L711.00 284.10 L712.00 284.40 L713.00 284.70 L714.00 285.00 L715.00 285.29 L716.00 285.58 L717.00 285.87 L718.00 286.17 L719.00 286.48 L720.00 286.90 L721.00 287.52 L722.00 288.25 L723.00 289.00 L724.00 289.73 L725.00 290.34 L726.00 290.73 L727.00 291.00 L728.00 291.25 L729.00 291.50 L730.00 291.73 L731.00 291.93 L732.00 292.11 L733.00 292.29 L734.00 292.46 L735.00 292.64 L736.00 292.82 L737.00 293.00" fill="none" stroke="#ff3cff" stroke-width="1.15" stroke-linejoin="round" stroke-linecap="round" clip-path="url(#c2)"/>
<path d="M-5.00 299.07 L-4.00 299.61 L-3.00 300.14 L-2.00 300.68 L-1.00 301.21 L0.00 301.75 L1.00 302.29 L2.00 302.82 L3.00 303.36 L4.00 303.88 L5.00 304.40 L6.00 304.90 L7.00 305.37 L8.00 305.81 L9.00 306.23 L10.00 306.62 L11.00 306.99 L12.00 307.36 L13.00 307.71 L14.00 308.03 L15.00 308.31 L16.00 308.53 L17.00 308.71 L18.00 308.86 L19.00 309.00 L20.00 309.12 L21.00 309.25 L22.00 309.36 L23.00 309.47 L24.00 309.54 L25.00 309.57 L26.00 309.56 L27.00 309.52 L28.00 309.44 L29.00 309.35 L30.00 309.25 L31.00 309.15 L32.00 309.04 L33.00 308.93 L34.00 308.81 L35.00 308.67 L36.00 308.51 L37.00 308.33 L38.00 308.14 L39.00 307.95 L40.00 307.75 L41.00 307.55 L42.00 307.34 L43.00 307.13 L44.00 306.90 L45.00 306.65 L46.00 306.38 L47.00 306.08 L48.00 305.77 L49.00 305.45 L50.00 305.12 L51.00 304.80 L52.00 304.47 L53.00 304.13 L54.00 303.79 L55.00 303.42 L56.00 303.04 L57.00 302.63 L58.00 302.22 L59.00 301.80 L60.00 301.38 L61.00 300.95 L62.00 300.53 L63.00 300.12 L64.00 299.71 L65.00 299.33 L66.00 298.96 L67.00 298.62 L68.00 298.28 L69.00 297.95 L70.00 297.63 L71.00 297.30 L72.00 296.98 L73.00 296.66 L74.00 296.35 L75.00 296.06 L76.00 295.78 L77.00 295.51 L78.00 295.25 L79.00 294.99 L80.00 294.72 L81.00 294.42 L82.00 294.08 L83.00 293.70 L84.00 293.28 L85.00 292.83 L86.00 292.38 L87.00 291.92 L88.00 291.48 L89.00 291.07 L90.00 290.70 L91.00 290.39 L92.00 290.13 L93.00 289.91 L94.00 289.73 L95.00 289.62 L96.00 289.57 L97.00 289.62 L98.00 289.73 L99.00 289.89 L100.00 290.07 L101.00 290.25 L102.00 290.41 L103.00 290.55 L104.00 290.67 L105.00 290.78 L106.00 290.87 L107.00 290.97 L108.00 291.08 L109.00 291.19 L110.00 291.31 L111.00 291.46 L112.00 291.61 L113.00 291.78 L114.00 291.95 L115.00 292.13 L116.00 292.30 L117.00 292.48 L118.00 292.66 L119.00 292.85 L120.00 293.06 L121.00 293.28 L122.00 293.51 L123.00 293.75 L124.00 294.00 L125.00 294.25 L126.00 294.50 L127.00 294.75 L128.00 295.00 L129.00 295.25 L130.00 295.50 L131.00 295.75 L132.00 296.00 L133.00 296.25 L134.00 296.50 L135.00 296.75 L136.00 297.00 L137.00 297.25 L138.00 297.49 L139.00 297.72 L140.00 297.94 L141.00 298.15 L142.00 298.35 L143.00 298.53 L144.00 298.69 L145.00 298.83 L146.00 298.92 L147.00 298.94 L148.00 298.88 L149.00 298.75 L150.00 298.57 L151.00 298.37 L152.00 298.16 L153.00 297.95 L154.00 297.74 L155.00 297.55 L156.00 297.38 L157.00 297.21 L158.00 297.05 L159.00 296.90 L160.00 296.75 L161.00 296.60 L162.00 296.45 L163.00 296.30 L164.00 296.14 L165.00 295.98 L166.00 295.82 L167.00 295.65 L168.00 295.47 L169.00 295.30 L170.00 295.13 L171.00 294.95 L172.00 294.78 L173.00 294.63 L174.00 294.49 L175.00 294.39 L176.00 294.32 L177.00 294.28 L178.00 294.26 L179.00 294.25 L180.00 294.25 L181.00 294.25 L182.00 294.26 L183.00 294.27 L184.00 294.30 L185.00 294.35 L186.00 294.42 L187.00 294.52 L188.00 294.63 L189.00 294.75 L190.00 294.87 L191.00 295.00 L192.00 295.11 L193.00 295.19 L194.00 295.23 L195.00 295.21 L196.00 295.11 L197.00 294.95 L198.00 294.74 L199.00 294.52 L200.00 294.31 L201.00 294.10 L202.00 293.91 L203.00 293.73 L204.00 293.55 L205.00 293.37 L206.00 293.20 L207.00 293.02 L208.00 292.83 L209.00 292.62 L210.00 292.38 L211.00 292.12 L212.00 291.83 L213.00 291.52 L214.00 291.20 L215.00 290.87 L216.00 290.55 L217.00 290.23 L218.00 289.91 L219.00 289.60 L220.00 289.31 L221.00 289.03 L222.00 288.76 L223.00 288.51 L224.00 288.26 L225.00 288.04 L226.00 287.84 L227.00 287.69 L228.00 287.59 L229.00 287.54 L230.00 287.51 L231.00 287.51 L232.00 287.51 L233.00 287.53 L234.00 287.57 L235.00 287.64 L236.00 287.74 L237.00 287.88 L238.00 288.03 L239.00 288.20 L240.00 288.38 L241.00 288.55 L242.00 288.73 L243.00 288.91 L244.00 289.10 L245.00 289.31 L246.00 289.53 L247.00 289.76 L248.00 290.00 L249.00 290.25 L250.00 290.50 L251.00 290.75 L252.00 291.01 L253.00 291.27 L254.00 291.55 L255.00 291.85 L256.00 292.17 L257.00 292.52 L258.00 292.88 L259.00 293.25 L260.00 293.63 L261.00 294.00 L262.00 294.39 L263.00 294.79 L264.00 295.23 L265.00 295.71 L266.00 296.24 L267.00 296.83 L268.00 297.44 L269.00 298.07 L270.00 298.70 L271.00 299.31 L272.00 299.91 L273.00 300.49 L274.00 301.05 L275.00 301.59 L276.00 302.12 L277.00 302.65 L278.00 303.16 L279.00 303.65 L280.00 304.11 L281.00 304.54 L282.00 304.94 L283.00 305.31 L284.00 305.67 L285.00 306.02 L286.00 306.35 L287.00 306.67 L288.00 306.96 L289.00 307.23 L290.00 307.49 L291.00 307.75 L292.00 307.99 L293.00 308.23 L294.00 308.46 L295.00 308.67 L296.00 308.85 L297.00 309.02 L298.00 309.17 L299.00 309.31 L300.00 309.43 L301.00 309.53 L302.00 309.59 L303.00 309.61 L304.00 309.59 L305.00 309.55 L306.00 309.50 L307.00 309.43 L308.00 309.36 L309.00 309.27 L310.00 309.16 L311.00 309.03 L312.00 308.88 L313.00 308.72 L314.00 308.55 L315.00 308.37 L316.00 308.20 L317.00 308.03 L318.00 307.85 L319.00 307.68 L320.00 307.52 L321.00 307.36 L322.00 307.20 L323.00 307.05 L324.00 306.90 L325.00 306.75 L326.00 306.60 L327.00 306.45 L328.00 306.30 L329.00 306.16 L330.00 306.02 L331.00 305.88 L332.00 305.75 L333.00 305.63 L334.00 305.50 L335.00 305.37 L336.00 305.25 L337.00 305.12 L338.00 304.98 L339.00 304.84 L340.00 304.67 L341.00 304.49 L342.00 304.28 L343.00 304.07 L344.00 303.85 L345.00 303.62 L346.00 303.40 L347.00 303.17 L348.00 302.95 L349.00 302.72 L350.00 302.48 L351.00 302.24 L352.00 302.00 L353.00 301.75 L354.00 301.50 L355.00 301.25 L356.00 301.00 L357.00 300.75 L358.00 300.51 L359.00 300.27 L360.00 300.04 L361.00 299.82 L362.00 299.61 L363.00 299.40 L364.00 299.20 L365.00 299.00 L366.00 298.80 L367.00 298.61 L368.00 298.44 L369.00 298.29 L370.00 298.19 L371.00 298.14 L372.00 298.14 L373.00 298.16 L374.00 298.20 L375.00 298.25 L376.00 298.30 L377.00 298.34 L378.00 298.37 L379.00 298.38 L380.00 298.36 L381.00 298.31 L382.00 298.22 L383.00 298.12 L384.00 298.00 L385.00 297.87 L386.00 297.75 L387.00 297.63 L388.00 297.50 L389.00 297.38 L390.00 297.27 L391.00 297.16 L392.00 297.05 L393.00 296.95 L394.00 296.85 L395.00 296.75 L396.00 296.65 L397.00 296.56 L398.00 296.48 L399.00 296.41 L400.00 296.38 L401.00 296.38 L402.00 296.41 L403.00 296.46 L404.00 296.52 L405.00 296.58 L406.00 296.65 L407.00 296.72 L408.00 296.78 L409.00 296.85 L410.00 296.92 L411.00 296.98 L412.00 297.03 L413.00 297.06 L414.00 297.04 L415.00 296.96 L416.00 296.81 L417.00 296.59 L418.00 296.33 L419.00 296.05 L420.00 295.75 L421.00 295.45 L422.00 295.15 L423.00 294.85 L424.00 294.55 L425.00 294.25 L426.00 293.95 L427.00 293.65 L428.00 293.35 L429.00 293.05 L430.00 292.75 L431.00 292.45 L432.00 292.17 L433.00 291.90 L434.00 291.68 L435.00 291.52 L436.00 291.43 L437.00 291.40 L438.00 291.42 L439.00 291.45 L440.00 291.50 L441.00 291.55 L442.00 291.60 L443.00 291.65 L444.00 291.71 L445.00 291.77 L446.00 291.83 L447.00 291.90 L448.00 291.98 L449.00 292.05 L450.00 292.12 L451.00 292.20 L452.00 292.26 L453.00 292.32 L454.00 292.35 L455.00 292.34 L456.00 292.30 L457.00 292.22 L458.00 292.11 L459.00 292.00 L460.00 291.87 L461.00 291.75 L462.00 291.62 L463.00 291.50 L464.00 291.37 L465.00 291.23 L466.00 291.09 L467.00 290.95 L468.00 290.80 L469.00 290.65 L470.00 290.50 L471.00 290.35 L472.00 290.20 L473.00 290.06 L474.00 289.92 L475.00 289.79 L476.00 289.67 L477.00 289.56 L478.00 289.45 L479.00 289.35 L480.00 289.25 L481.00 289.15 L482.00 289.04 L483.00 288.92 L484.00 288.76 L485.00 288.57 L486.00 288.34 L487.00 288.07 L488.00 287.76 L489.00 287.45 L490.00 287.12 L491.00 286.80 L492.00 286.47 L493.00 286.13 L494.00 285.78 L495.00 285.40 L496.00 285.00 L497.00 284.58 L498.00 284.14 L499.00 283.70 L500.00 283.25 L501.00 282.80 L502.00 282.34 L503.00 281.88 L504.00 281.39 L505.00 280.88 L506.00 280.33 L507.00 279.76 L508.00 279.18 L509.00 278.59 L510.00 278.03 L511.00 277.53 L512.00 277.10 L513.00 276.76 L514.00 276.51 L515.00 276.30 L516.00 276.13 L517.00 275.98 L518.00 275.85 L519.00 275.74 L520.00 275.68 L521.00 275.66 L522.00 275.68 L523.00 275.73 L524.00 275.80 L525.00 275.89 L526.00 276.00 L527.00 276.14 L528.00 276.32 L529.00 276.53 L530.00 276.76 L531.00 277.00 L532.00 277.25 L533.00 277.50 L534.00 277.75 L535.00 278.00 L536.00 278.25 L537.00 278.50 L538.00 278.75 L539.00 279.00 L540.00 279.25 L541.00 279.50 L542.00 279.75 L543.00 280.00 L544.00 280.25 L545.00 280.50 L546.00 280.75 L547.00 281.00 L548.00 281.25 L549.00 281.50 L550.00 281.75 L551.00 282.00 L552.00 282.24 L553.00 282.46 L554.00 282.66 L555.00 282.81 L556.00 282.91 L557.00 282.96 L558.00 282.99 L559.00 283.00 L560.00 283.00 L561.00 283.00 L562.00 283.00 L563.00 283.01 L564.00 283.02 L565.00 283.04 L566.00 283.07 L567.00 283.11 L568.00 283.15 L569.00 283.20 L570.00 283.25 L571.00 283.30 L572.00 283.36 L573.00 283.43 L574.00 283.51 L575.00 283.63 L576.00 283.78 L577.00 283.95 L578.00 284.15 L579.00 284.37 L580.00 284.60 L581.00 284.85 L582.00 285.13 L583.00 285.44 L584.00 285.77 L585.00 286.13 L586.00 286.50 L587.00 286.87 L588.00 287.22 L589.00 287.56 L590.00 287.86 L591.00 288.13 L592.00 288.37 L593.00 288.59 L594.00 288.80 L595.00 289.00 L596.00 289.20 L597.00 289.40 L598.00 289.61 L599.00 289.82 L600.00 290.04 L601.00 290.27 L602.00 290.51 L603.00 290.76 L604.00 291.01 L605.00 291.28 L606.00 291.58 L607.00 291.92 L608.00 292.30 L609.00 292.72 L610.00 293.17 L611.00 293.62 L612.00 294.08 L613.00 294.52 L614.00 294.93 L615.00 295.29 L616.00 295.60 L617.00 295.86 L618.00 296.09 L619.00 296.30 L620.00 296.50 L621.00 296.70 L622.00 296.90 L623.00 297.09 L624.00 297.27 L625.00 297.44 L626.00 297.60 L627.00 297.74 L628.00 297.87 L629.00 298.00 L630.00 298.12 L631.00 298.25 L632.00 298.37 L633.00 298.49 L634.00 298.60 L635.00 298.71 L636.00 298.80 L637.00 298.88 L638.00 298.96 L639.00 299.02 L640.00 299.07 L641.00 299.09 L642.00 299.07 L643.00 299.01 L644.00 298.90 L645.00 298.77 L646.00 298.62 L647.00 298.46 L648.00 298.29 L649.00 298.11 L650.00 297.90 L651.00 297.67 L652.00 297.41 L653.00 297.14 L654.00 296.87 L655.00 296.62 L656.00 296.39 L657.00 296.22 L658.00 296.11 L659.00 296.04 L660.00 296.01 L661.00 296.00 L662.00 296.00 L663.00 295.98 L664.00 295.96 L665.00 295.92 L666.00 295.86 L667.00 295.78 L668.00 295.69 L669.00 295.60 L670.00 295.50 L671.00 295.40 L672.00 295.31 L673.00 295.22 L674.00 295.14 L675.00 295.08 L676.00 295.04 L677.00 295.02 L678.00 295.01 L679.00 295.00 L680.00 295.00 L681.00 295.00 L682.00 295.00 L683.00 294.99 L684.00 294.97 L685.00 294.94 L686.00 294.90 L687.00 294.84 L688.00 294.77 L689.00 294.70 L690.00 294.62 L691.00 294.55 L692.00 294.46 L693.00 294.36 L694.00 294.22 L695.00 294.03 L696.00 293.79 L697.00 293.49 L698.00 293.16 L699.00 292.82 L700.00 292.47 L701.00 292.12 L702.00 291.78 L703.00 291.45 L704.00 291.13 L705.00 290.82 L706.00 290.50 L707.00 290.19 L708.00 289.90 L709.00 289.61 L710.00 289.35 L711.00 289.12 L712.00 288.91 L713.00 288.72 L714.00 288.55 L715.00 288.38 L716.00 288.25 L717.00 288.14 L718.00 288.07 L719.00 288.04 L720.00 288.05 L721.00 288.10 L722.00 288.19 L723.00 288.34 L724.00 288.54 L725.00 288.76 L726.00 289.00 L727.00 289.25 L728.00 289.50 L729.00 289.74 L730.00 289.98 L731.00 290.19 L732.00 290.38 L733.00 290.54 L734.00 290.68 L735.00 290.79 L736.00 290.90 L737.00 291.00" fill="none" stroke="#32329a" stroke-width="1.2" stroke-linejoin="round" stroke-linecap="round" clip-path="url(#c2)"/>
<text x="706.30" y="279.20" fill="#e02a2a" stroke="#e02a2a" stroke-width="0.16" style="font-size:11.5px">d</text>
<rect x="-4" y="320" width="771.5" height="1.4" fill="#a9a9a9"/>
<path d="M767.40 268.40v5.2l-4 -2.6z" fill="#bdbdbd"/>
<path d="M767.40 313.40v5.2l-4 -2.6z" fill="#bdbdbd"/>
<text x="770.00" y="270.60" fill="#ff2cff" stroke="#ff2cff" stroke-width="0.16" textLength="17.20" lengthAdjust="spacingAndGlyphs">3.00</text>
<text x="770.00" y="285.50" fill="#ff2cff" stroke="#ff2cff" stroke-width="0.16" textLength="17.20" lengthAdjust="spacingAndGlyphs">1.50</text>
<text x="768.40" y="312.80" fill="#ff2cff" stroke="#ff2cff" stroke-width="0.16" textLength="19.40" lengthAdjust="spacingAndGlyphs">-1.50</text>
<rect x="769.4" y="289.6" width="20.4" height="11" rx="2.4" fill="#fff" stroke="#444" stroke-width="1.1"/>
<text x="771.30" y="298.40" fill="#111" stroke="#111" stroke-width="0.16" textLength="16.60" lengthAdjust="spacingAndGlyphs">0.28</text>
<rect x="2.6" y="324.1" width="11" height="10.8" rx="1" fill="#fff" stroke="#8a8a8a" stroke-width="0.9"/>
<text x="5.30" y="332.80" fill="#444" stroke="#444" stroke-width="0.16" textLength="5.60" lengthAdjust="spacingAndGlyphs" style="font-size:7.6px">X</text>
<text x="22.00" y="334.20" fill="#26802a" stroke="#26802a" stroke-width="0.16" textLength="71.80" lengthAdjust="spacingAndGlyphs">Stochastics RSI 21</text>
<path d="M97.50 329.80h5l-2.50 3.2z" fill="#777"/>
<text x="107.50" y="334.20" fill="#2a2a9c" stroke="#2a2a9c" stroke-width="0.16" textLength="69.50" lengthAdjust="spacingAndGlyphs">Moving Average 5</text>
<path d="M180.80 329.80h5l-2.50 3.2z" fill="#777"/>
<path class="h" d="M-4 358.6H752"/>
<path class="h" d="M-4 380.2H752"/>
<path d="M-5.00 378.14 L0.00 378.50 L14.00 379.50 L18.00 368.50 L21.00 370.25 L28.00 366.00 L32.00 369.50 L35.00 361.50 L39.00 365.75 L42.00 362.75 L46.00 365.25 L50.00 359.00 L53.00 355.25 L56.00 339.00 L59.00 337.00 L65.00 337.00 L68.00 341.00 L72.00 342.00 L76.00 340.25 L80.00 337.00 L90.00 337.00 L94.00 342.75 L100.00 353.50 L104.00 352.00 L108.00 349.00 L113.00 346.50 L117.00 350.25 L121.00 355.25 L126.00 360.25 L129.00 369.00 L132.00 378.50 L135.00 376.50 L140.00 378.50 L146.00 378.50 L150.00 364.00 L153.00 356.50 L156.00 349.00 L160.00 355.25 L163.00 359.50 L167.00 346.50 L171.00 337.00 L174.00 341.50 L178.00 355.25 L181.00 360.25 L185.00 367.75 L188.00 369.00 L191.00 350.25 L194.00 352.75 L198.00 344.00 L200.00 344.00 L203.00 346.50 L206.00 349.50 L210.00 337.75 L219.00 337.00 L224.00 340.25 L228.00 347.75 L231.00 351.00 L234.00 346.50 L238.00 355.25 L242.00 356.00 L247.00 357.75 L252.00 357.00 L256.00 366.50 L260.00 374.00 L263.00 379.50 L280.00 379.50 L284.00 377.00 L289.00 378.50 L295.00 379.50 L305.00 379.50 L308.00 375.25 L312.00 368.50 L316.00 371.00 L319.00 374.00 L323.00 369.50 L327.00 371.00 L330.00 375.25 L333.00 366.50 L337.00 360.25 L340.00 367.75 L344.00 337.75 L348.00 337.00 L351.00 346.50 L355.00 345.25 L358.00 342.75 L361.00 347.00 L365.00 340.25 L369.00 351.00 L372.00 352.75 L376.00 340.25 L379.00 357.00 L383.00 344.00 L387.00 337.75 L391.00 342.75 L394.00 339.00 L397.00 337.00 L400.00 339.50 L404.00 342.75 L408.00 350.25 L411.00 349.50 L415.00 337.00 L426.00 337.00 L430.00 342.00 L434.00 347.75 L437.00 351.00 L440.00 347.75 L443.00 359.00 L447.00 353.50 L451.00 347.75 L454.00 345.25 L458.00 345.25 L461.00 349.00 L465.00 340.25 L468.00 337.75 L471.00 337.75 L474.00 346.50 L478.00 344.50 L482.00 337.75 L485.00 337.00 L500.00 337.00 L503.00 339.00 L507.00 337.00 L512.00 337.75 L515.00 342.75 L517.00 358.50 L521.00 355.25 L525.00 352.75 L528.00 356.50 L531.00 364.00 L535.00 362.75 L540.00 361.50 L543.00 362.75 L546.00 366.00 L549.00 362.75 L553.00 372.00 L557.00 367.75 L560.00 364.00 L563.00 366.50 L567.00 363.50 L570.00 367.75 L574.00 374.50 L577.00 367.00 L581.00 379.00 L588.00 378.50 L592.00 362.75 L596.00 367.75 L600.00 370.00 L603.00 376.50 L606.00 374.00 L610.00 379.00 L615.00 378.50 L617.00 375.25 L620.00 367.00 L623.00 375.25 L627.00 372.75 L630.00 376.00 L634.00 379.00 L638.00 371.50 L641.00 374.00 L645.00 366.00 L648.00 367.75 L652.00 351.00 L656.00 351.00 L659.00 362.75 L662.00 377.00 L666.00 369.00 L670.00 370.25 L673.00 349.00 L677.00 355.25 L680.00 351.00 L684.00 371.00 L688.00 365.25 L692.00 360.25 L695.00 355.25 L698.00 337.00 L702.00 337.00 L706.00 341.00 L709.00 345.25 L713.00 351.00 L716.00 351.50 L720.00 344.50 L723.00 367.75 L727.00 365.25 L730.00 357.00 L734.00 366.00 L737.00 364.00" fill="none" stroke="#389a38" stroke-width="1.1" stroke-linejoin="round" stroke-linecap="round" clip-path="url(#c3)"/>
<path d="M-5.00 376.86 L-4.00 377.04 L-3.00 377.21 L-2.00 377.39 L-1.00 377.57 L0.00 377.75 L1.00 377.93 L2.00 378.11 L3.00 378.29 L4.00 378.46 L5.00 378.64 L6.00 378.80 L7.00 378.91 L8.00 378.97 L9.00 379.00 L10.00 379.00 L11.00 379.00 L12.00 378.98 L13.00 378.91 L14.00 378.69 L15.00 378.28 L16.00 377.73 L17.00 377.12 L18.00 376.50 L19.00 375.88 L20.00 375.26 L21.00 374.65 L22.00 374.04 L23.00 373.43 L24.00 372.82 L25.00 372.22 L26.00 371.63 L27.00 371.07 L28.00 370.56 L29.00 370.08 L30.00 369.61 L31.00 369.14 L32.00 368.68 L33.00 368.24 L34.00 367.83 L35.00 367.48 L36.00 367.17 L37.00 366.88 L38.00 366.59 L39.00 366.30 L40.00 366.04 L41.00 365.80 L42.00 365.59 L43.00 365.37 L44.00 365.16 L45.00 364.92 L46.00 364.63 L47.00 364.26 L48.00 363.83 L49.00 363.37 L50.00 362.89 L51.00 362.33 L52.00 361.56 L53.00 360.52 L54.00 359.28 L55.00 357.94 L56.00 356.58 L57.00 355.18 L58.00 353.73 L59.00 352.25 L60.00 350.76 L61.00 349.30 L62.00 347.92 L63.00 346.65 L64.00 345.46 L65.00 344.32 L66.00 343.23 L67.00 342.27 L68.00 341.48 L69.00 340.82 L70.00 340.22 L71.00 339.71 L72.00 339.37 L73.00 339.27 L74.00 339.33 L75.00 339.47 L76.00 339.62 L77.00 339.78 L78.00 339.92 L79.00 340.02 L80.00 340.00 L81.00 339.83 L82.00 339.54 L83.00 339.20 L84.00 338.88 L85.00 338.61 L86.00 338.41 L87.00 338.26 L88.00 338.13 L89.00 338.01 L90.00 337.92 L91.00 337.90 L92.00 337.98 L93.00 338.16 L94.00 338.43 L95.00 338.90 L96.00 339.62 L97.00 340.52 L98.00 341.50 L99.00 342.48 L100.00 343.43 L101.00 344.33 L102.00 345.20 L103.00 346.04 L104.00 346.85 L105.00 347.58 L106.00 348.20 L107.00 348.74 L108.00 349.24 L109.00 349.68 L110.00 350.00 L111.00 350.18 L112.00 350.24 L113.00 350.25 L114.00 350.25 L115.00 350.25 L116.00 350.25 L117.00 350.25 L118.00 350.27 L119.00 350.36 L120.00 350.62 L121.00 351.11 L122.00 351.77 L123.00 352.52 L124.00 353.32 L125.00 354.25 L126.00 355.32 L127.00 356.51 L128.00 357.75 L129.00 359.01 L130.00 360.30 L131.00 361.61 L132.00 362.95 L133.00 364.29 L134.00 365.62 L135.00 366.90 L136.00 368.12 L137.00 369.29 L138.00 370.44 L139.00 371.56 L140.00 372.63 L141.00 373.61 L142.00 374.54 L143.00 375.40 L144.00 376.09 L145.00 376.37 L146.00 376.09 L147.00 375.40 L148.00 374.53 L149.00 373.58 L150.00 372.53 L151.00 371.33 L152.00 370.04 L153.00 368.70 L154.00 367.38 L155.00 366.10 L156.00 364.88 L157.00 363.71 L158.00 362.55 L159.00 361.42 L160.00 360.32 L161.00 359.27 L162.00 358.25 L163.00 357.25 L164.00 356.27 L165.00 355.32 L166.00 354.42 L167.00 353.55 L168.00 352.71 L169.00 351.90 L170.00 351.17 L171.00 350.55 L172.00 350.01 L173.00 349.51 L174.00 349.07 L175.00 348.75 L176.00 348.57 L177.00 348.52 L178.00 348.53 L179.00 348.66 L180.00 349.04 L181.00 349.76 L182.00 350.73 L183.00 351.81 L184.00 352.92 L185.00 354.07 L186.00 355.27 L187.00 356.50 L188.00 357.71 L189.00 358.78 L190.00 359.51 L191.00 359.78 L192.00 359.71 L193.00 359.48 L194.00 359.18 L195.00 358.75 L196.00 358.18 L197.00 357.49 L198.00 356.74 L199.00 355.96 L200.00 355.13 L201.00 354.21 L202.00 353.24 L203.00 352.25 L204.00 351.27 L205.00 350.32 L206.00 349.42 L207.00 348.55 L208.00 347.71 L209.00 346.88 L210.00 346.10 L211.00 345.38 L212.00 344.71 L213.00 344.05 L214.00 343.42 L215.00 342.82 L216.00 342.27 L217.00 341.75 L218.00 341.25 L219.00 340.75 L220.00 340.25 L221.00 339.75 L222.00 339.28 L223.00 338.92 L224.00 338.83 L225.00 339.11 L226.00 339.66 L227.00 340.34 L228.00 341.09 L229.00 341.90 L230.00 342.75 L231.00 343.61 L232.00 344.46 L233.00 345.29 L234.00 346.10 L235.00 346.89 L236.00 347.67 L237.00 348.40 L238.00 349.07 L239.00 349.69 L240.00 350.30 L241.00 350.89 L242.00 351.45 L243.00 351.99 L244.00 352.50 L245.00 353.00 L246.00 353.49 L247.00 353.95 L248.00 354.39 L249.00 354.80 L250.00 355.21 L251.00 355.67 L252.00 356.22 L253.00 356.92 L254.00 357.71 L255.00 358.56 L256.00 359.46 L257.00 360.45 L258.00 361.56 L259.00 362.76 L260.00 364.00 L261.00 365.25 L262.00 366.50 L263.00 367.75 L264.00 369.00 L265.00 370.24 L266.00 371.44 L267.00 372.55 L268.00 373.54 L269.00 374.44 L270.00 375.29 L271.00 376.10 L272.00 376.83 L273.00 377.45 L274.00 377.98 L275.00 378.43 L276.00 378.75 L277.00 378.93 L278.00 378.99 L279.00 379.00 L280.00 378.99 L281.00 378.96 L282.00 378.88 L283.00 378.71 L284.00 378.49 L285.00 378.26 L286.00 378.05 L287.00 377.92 L288.00 377.89 L289.00 377.95 L290.00 378.03 L291.00 378.12 L292.00 378.22 L293.00 378.31 L294.00 378.40 L295.00 378.48 L296.00 378.54 L297.00 378.60 L298.00 378.65 L299.00 378.70 L300.00 378.75 L301.00 378.80 L302.00 378.85 L303.00 378.89 L304.00 378.87 L305.00 378.73 L306.00 378.42 L307.00 377.99 L308.00 377.50 L309.00 377.01 L310.00 376.55 L311.00 376.11 L312.00 375.70 L313.00 375.31 L314.00 374.93 L315.00 374.60 L316.00 374.33 L317.00 374.10 L318.00 373.89 L319.00 373.66 L320.00 373.35 L321.00 372.96 L322.00 372.49 L323.00 372.02 L324.00 371.60 L325.00 371.34 L326.00 371.30 L327.00 371.42 L328.00 371.58 L329.00 371.67 L330.00 371.56 L331.00 371.17 L332.00 370.58 L333.00 369.91 L334.00 369.26 L335.00 368.70 L336.00 368.26 L337.00 367.91 L338.00 367.56 L339.00 367.08 L340.00 366.24 L341.00 364.93 L342.00 363.26 L343.00 361.46 L344.00 359.65 L345.00 357.92 L346.00 356.30 L347.00 354.76 L348.00 353.26 L349.00 351.82 L350.00 350.50 L351.00 349.32 L352.00 348.26 L353.00 347.25 L354.00 346.24 L355.00 345.21 L356.00 344.20 L357.00 343.31 L358.00 342.78 L359.00 342.73 L360.00 343.03 L361.00 343.45 L362.00 343.80 L363.00 344.04 L364.00 344.19 L365.00 344.31 L366.00 344.46 L367.00 344.70 L368.00 345.06 L369.00 345.51 L370.00 345.98 L371.00 346.40 L372.00 346.66 L373.00 346.70 L374.00 346.58 L375.00 346.42 L376.00 346.30 L377.00 346.34 L378.00 346.60 L379.00 347.02 L380.00 347.48 L381.00 347.86 L382.00 348.01 L383.00 347.86 L384.00 347.47 L385.00 346.99 L386.00 346.48 L387.00 345.93 L388.00 345.33 L389.00 344.70 L390.00 344.05 L391.00 343.42 L392.00 342.82 L393.00 342.27 L394.00 341.76 L395.00 341.27 L396.00 340.84 L397.00 340.55 L398.00 340.46 L399.00 340.52 L400.00 340.68 L401.00 340.90 L402.00 341.16 L403.00 341.44 L404.00 341.74 L405.00 342.06 L406.00 342.42 L407.00 342.80 L408.00 343.19 L409.00 343.56 L410.00 343.85 L411.00 344.06 L412.00 344.19 L413.00 344.28 L414.00 344.31 L415.00 344.21 L416.00 343.91 L417.00 343.48 L418.00 343.00 L419.00 342.49 L420.00 341.95 L421.00 341.39 L422.00 340.80 L423.00 340.20 L424.00 339.63 L425.00 339.09 L426.00 338.64 L427.00 338.32 L428.00 338.26 L429.00 338.53 L430.00 339.03 L431.00 339.65 L432.00 340.31 L433.00 341.02 L434.00 341.75 L435.00 342.50 L436.00 343.25 L437.00 344.00 L438.00 344.75 L439.00 345.50 L440.00 346.25 L441.00 347.00 L442.00 347.75 L443.00 348.50 L444.00 349.25 L445.00 349.99 L446.00 350.69 L447.00 351.28 L448.00 351.75 L449.00 352.10 L450.00 352.35 L451.00 352.44 L452.00 352.35 L453.00 352.11 L454.00 351.82 L455.00 351.53 L456.00 351.26 L457.00 351.00 L458.00 350.74 L459.00 350.43 L460.00 350.00 L461.00 349.43 L462.00 348.74 L463.00 348.00 L464.00 347.25 L465.00 346.50 L466.00 345.75 L467.00 345.00 L468.00 344.26 L469.00 343.55 L470.00 342.90 L471.00 342.36 L472.00 341.90 L473.00 341.54 L474.00 341.34 L475.00 341.35 L476.00 341.50 L477.00 341.65 L478.00 341.66 L479.00 341.46 L480.00 341.12 L481.00 340.75 L482.00 340.47 L483.00 340.31 L484.00 340.26 L485.00 340.24 L486.00 340.19 L487.00 340.05 L488.00 339.79 L489.00 339.44 L490.00 339.05 L491.00 338.67 L492.00 338.32 L493.00 338.02 L494.00 337.76 L495.00 337.51 L496.00 337.32 L497.00 337.25 L498.00 337.32 L499.00 337.51 L500.00 337.74 L501.00 337.93 L502.00 338.03 L503.00 337.98 L504.00 337.84 L505.00 337.66 L506.00 337.49 L507.00 337.40 L508.00 337.39 L509.00 337.46 L510.00 337.57 L511.00 337.77 L512.00 338.16 L513.00 338.81 L514.00 339.66 L515.00 340.61 L516.00 341.65 L517.00 342.79 L518.00 344.00 L519.00 345.21 L520.00 346.38 L521.00 347.46 L522.00 348.49 L523.00 349.50 L524.00 350.50 L525.00 351.50 L526.00 352.50 L527.00 353.50 L528.00 354.48 L529.00 355.41 L530.00 356.21 L531.00 356.81 L532.00 357.28 L533.00 357.70 L534.00 358.09 L535.00 358.48 L536.00 358.84 L537.00 359.20 L538.00 359.55 L539.00 359.92 L540.00 360.32 L541.00 360.77 L542.00 361.25 L543.00 361.74 L544.00 362.20 L545.00 362.58 L546.00 362.85 L547.00 363.04 L548.00 363.20 L549.00 363.38 L550.00 363.60 L551.00 363.88 L552.00 364.21 L553.00 364.55 L554.00 364.89 L555.00 365.20 L556.00 365.49 L557.00 365.75 L558.00 365.99 L559.00 366.20 L560.00 366.33 L561.00 366.35 L562.00 366.29 L563.00 366.20 L564.00 366.11 L565.00 366.05 L566.00 366.01 L567.00 366.00 L568.00 366.01 L569.00 366.05 L570.00 366.17 L571.00 366.40 L572.00 366.71 L573.00 367.05 L574.00 367.42 L575.00 367.82 L576.00 368.27 L577.00 368.75 L578.00 369.25 L579.00 369.77 L580.00 370.32 L581.00 370.92 L582.00 371.55 L583.00 372.20 L584.00 372.84 L585.00 373.46 L586.00 374.05 L587.00 374.59 L588.00 375.02 L589.00 375.20 L590.00 375.03 L591.00 374.60 L592.00 374.11 L593.00 373.68 L594.00 373.37 L595.00 373.12 L596.00 372.88 L597.00 372.56 L598.00 372.12 L599.00 371.64 L600.00 371.21 L601.00 370.91 L602.00 370.71 L603.00 370.58 L604.00 370.53 L605.00 370.69 L606.00 371.13 L607.00 371.77 L608.00 372.49 L609.00 373.20 L610.00 373.84 L611.00 374.38 L612.00 374.85 L613.00 375.28 L614.00 375.71 L615.00 376.12 L616.00 376.46 L617.00 376.62 L618.00 376.54 L619.00 376.28 L620.00 375.95 L621.00 375.61 L622.00 375.30 L623.00 375.01 L624.00 374.75 L625.00 374.51 L626.00 374.30 L627.00 374.17 L628.00 374.15 L629.00 374.21 L630.00 374.30 L631.00 374.41 L632.00 374.52 L633.00 374.66 L634.00 374.80 L635.00 374.94 L636.00 375.04 L637.00 375.05 L638.00 374.94 L639.00 374.74 L640.00 374.49 L641.00 374.20 L642.00 373.83 L643.00 373.35 L644.00 372.79 L645.00 372.18 L646.00 371.52 L647.00 370.73 L648.00 369.77 L649.00 368.69 L650.00 367.55 L651.00 366.40 L652.00 365.25 L653.00 364.10 L654.00 362.95 L655.00 361.84 L656.00 360.87 L657.00 360.25 L658.00 360.10 L659.00 360.28 L660.00 360.59 L661.00 360.88 L662.00 361.09 L663.00 361.26 L664.00 361.49 L665.00 361.88 L666.00 362.51 L667.00 363.32 L668.00 364.17 L669.00 364.95 L670.00 365.48 L671.00 365.70 L672.00 365.67 L673.00 365.52 L674.00 365.26 L675.00 364.76 L676.00 363.96 L677.00 362.93 L678.00 361.83 L679.00 360.80 L680.00 360.02 L681.00 359.55 L682.00 359.33 L683.00 359.22 L684.00 359.17 L685.00 359.25 L686.00 359.47 L687.00 359.81 L688.00 360.18 L689.00 360.47 L690.00 360.56 L691.00 360.37 L692.00 359.97 L693.00 359.48 L694.00 358.91 L695.00 358.18 L696.00 357.26 L697.00 356.18 L698.00 355.05 L699.00 353.89 L700.00 352.70 L701.00 351.49 L702.00 350.25 L703.00 349.01 L704.00 347.80 L705.00 346.65 L706.00 345.61 L707.00 344.65 L708.00 343.76 L709.00 343.01 L710.00 342.44 L711.00 342.08 L712.00 342.01 L713.00 342.28 L714.00 342.78 L715.00 343.38 L716.00 344.00 L717.00 344.63 L718.00 345.27 L719.00 345.97 L720.00 346.81 L721.00 347.84 L722.00 349.02 L723.00 350.25 L724.00 351.50 L725.00 352.75 L726.00 353.98 L727.00 355.13 L728.00 356.09 L729.00 356.81 L730.00 357.41 L731.00 358.07 L732.00 358.92 L733.00 359.90 L734.00 360.88 L735.00 361.80 L736.00 362.66 L737.00 363.50" fill="none" stroke="#2a2aa4" stroke-width="1.2" stroke-linejoin="round" stroke-linecap="round" clip-path="url(#c3)"/>
<path d="M305.00 379.75 L516.20 346.00" fill="none" stroke="#25c825" stroke-width="1.3" stroke-linejoin="round" stroke-linecap="round"/>
<circle cx="305.00" cy="379.75" r="1.6" fill="#fff" fill-opacity="0.6" stroke="#555" stroke-width="0.8"/>
<circle cx="516.20" cy="346.00" r="1.6" fill="#fff" fill-opacity="0.6" stroke="#999" stroke-width="0.8"/>
<path d="M767.40 337.40v5.2l-4 -2.6z" fill="#bdbdbd"/>
<path d="M767.40 378.90v5.2l-4 -2.6z" fill="#bdbdbd"/>
<text x="770.00" y="340.90" fill="#26802a" stroke="#26802a" stroke-width="0.16" textLength="26.30" lengthAdjust="spacingAndGlyphs">100.00</text>
<text x="772.50" y="360.90" fill="#26802a" stroke="#26802a" stroke-width="0.16" textLength="21.60" lengthAdjust="spacingAndGlyphs">50.00</text>
<text x="770.00" y="383.40" fill="#26802a" stroke="#26802a" stroke-width="0.16" textLength="17.20" lengthAdjust="spacingAndGlyphs">0.00</text>
<rect x="769.4" y="360.2" width="25.2" height="11" rx="2.4" fill="#fff" stroke="#444" stroke-width="1.1"/>
<text x="771.40" y="369.00" fill="#111" stroke="#111" stroke-width="0.16" textLength="21.20" lengthAdjust="spacingAndGlyphs">36.32</text>
<text x="4.00" y="392.30" fill="#222" stroke="#222" stroke-width="0.08" text-anchor="middle">20</text>
<text x="21.72" y="392.30" fill="#222" stroke="#222" stroke-width="0.08" text-anchor="middle">27</text>
<text x="39.43" y="392.30" fill="#222" stroke="#222" stroke-width="0.08" text-anchor="middle">3</text>
<text x="57.15" y="392.30" fill="#222" stroke="#222" stroke-width="0.08" text-anchor="middle">10</text>
<text x="74.87" y="392.30" fill="#222" stroke="#222" stroke-width="0.08" text-anchor="middle">17</text>
<text x="92.59" y="392.30" fill="#222" stroke="#222" stroke-width="0.08" text-anchor="middle">24</text>
<text x="110.30" y="392.30" fill="#222" stroke="#222" stroke-width="0.08" text-anchor="middle">31</text>
<text x="128.02" y="392.30" fill="#222" stroke="#222" stroke-width="0.08" text-anchor="middle">8</text>
<text x="142.20" y="392.30" fill="#222" stroke="#222" stroke-width="0.08" text-anchor="middle">14</text>
<text x="159.91" y="392.30" fill="#222" stroke="#222" stroke-width="0.08" text-anchor="middle">21</text>
<text x="177.63" y="392.30" fill="#222" stroke="#222" stroke-width="0.08" text-anchor="middle">28</text>
<text x="195.35" y="392.30" fill="#222" stroke="#222" stroke-width="0.08" text-anchor="middle">5</text>
<text x="213.07" y="392.30" fill="#222" stroke="#222" stroke-width="0.08" text-anchor="middle">12</text>
<text x="230.78" y="392.30" fill="#222" stroke="#222" stroke-width="0.08" text-anchor="middle">19</text>
<text x="248.50" y="392.30" fill="#222" stroke="#222" stroke-width="0.08" text-anchor="middle">26</text>
<text x="266.22" y="392.30" fill="#222" stroke="#222" stroke-width="0.08" text-anchor="middle">2</text>
<text x="283.93" y="392.30" fill="#222" stroke="#222" stroke-width="0.08" text-anchor="middle">9</text>
<text x="301.65" y="392.30" fill="#222" stroke="#222" stroke-width="0.08" text-anchor="middle">16</text>
<text x="319.37" y="392.30" fill="#222" stroke="#222" stroke-width="0.08" text-anchor="middle">23</text>
<text x="333.54" y="392.30" fill="#222" stroke="#222" stroke-width="0.08" text-anchor="middle">30</text>
<text x="351.26" y="392.30" fill="#222" stroke="#222" stroke-width="0.08" text-anchor="middle">7</text>
<text x="368.98" y="392.30" fill="#222" stroke="#222" stroke-width="0.08" text-anchor="middle">14</text>
<text x="386.70" y="392.30" fill="#222" stroke="#222" stroke-width="0.08" text-anchor="middle">21</text>
<text x="400.87" y="392.30" fill="#222" stroke="#222" stroke-width="0.08" text-anchor="middle">28</text>
<text x="415.04" y="392.30" fill="#222" stroke="#222" stroke-width="0.08" text-anchor="middle">4</text>
<text x="432.76" y="392.30" fill="#222" stroke="#222" stroke-width="0.08" text-anchor="middle">11</text>
<text x="450.48" y="392.30" fill="#222" stroke="#222" stroke-width="0.08" text-anchor="middle">19</text>
<text x="464.65" y="392.30" fill="#222" stroke="#222" stroke-width="0.08" text-anchor="middle">25</text>
<text x="482.37" y="392.30" fill="#222" stroke="#222" stroke-width="0.08" text-anchor="middle">1</text>
<text x="500.09" y="392.30" fill="#222" stroke="#222" stroke-width="0.08" text-anchor="middle">8</text>
<text x="517.80" y="392.30" fill="#222" stroke="#222" stroke-width="0.08" text-anchor="middle">16</text>
<text x="531.98" y="392.30" fill="#222" stroke="#222" stroke-width="0.08" text-anchor="middle">22</text>
<text x="549.70" y="392.30" fill="#222" stroke="#222" stroke-width="0.08" text-anchor="middle">29</text>
<text x="567.41" y="392.30" fill="#222" stroke="#222" stroke-width="0.08" text-anchor="middle">7</text>
<text x="585.13" y="392.30" fill="#222" stroke="#222" stroke-width="0.08" text-anchor="middle">14</text>
<text x="602.85" y="392.30" fill="#222" stroke="#222" stroke-width="0.08" text-anchor="middle">21</text>
<text x="617.02" y="392.30" fill="#222" stroke="#222" stroke-width="0.08" text-anchor="middle">28</text>
<text x="634.74" y="392.30" fill="#222" stroke="#222" stroke-width="0.08" text-anchor="middle">4</text>
<text x="652.46" y="392.30" fill="#222" stroke="#222" stroke-width="0.08" text-anchor="middle">11</text>
<text x="670.17" y="392.30" fill="#222" stroke="#222" stroke-width="0.08" text-anchor="middle">18</text>
<text x="687.89" y="392.30" fill="#222" stroke="#222" stroke-width="0.08" text-anchor="middle">25</text>
<text x="39.43" y="402.00" fill="#222" stroke="#222" stroke-width="0.08" text-anchor="middle">Aug 2015</text>
<text x="113.85" y="402.00" fill="#222" stroke="#222" stroke-width="0.08" text-anchor="middle">Sep 2015</text>
<text x="188.26" y="402.00" fill="#222" stroke="#222" stroke-width="0.08" text-anchor="middle">Oct 2015</text>
<text x="266.22" y="402.00" fill="#222" stroke="#222" stroke-width="0.08" text-anchor="middle">Nov 2015</text>
<text x="337.09" y="402.00" fill="#222" stroke="#222" stroke-width="0.08" text-anchor="middle">Dec 2015</text>
<text x="415.04" y="402.00" fill="#222" stroke="#222" stroke-width="0.08" text-anchor="middle">Jan 2016</text>
<text x="482.37" y="402.00" fill="#222" stroke="#222" stroke-width="0.08" text-anchor="middle">Feb 2016</text>
<text x="553.24" y="402.00" fill="#222" stroke="#222" stroke-width="0.08" text-anchor="middle">Mar 2016</text>
<text x="631.20" y="402.00" fill="#222" stroke="#222" stroke-width="0.08" text-anchor="middle">Apr 2016</text>
<text x="16.30" y="402.00" fill="#222" stroke="#222" stroke-width="0.08" text-anchor="end">Jul 2015</text>
<text x="713.00" y="396.40" fill="#3a3a3a" stroke="#3a3a3a" stroke-width="0" textLength="32.50" lengthAdjust="spacingAndGlyphs" style="font-size:6.3px" font-weight="bold">5/13/2016</text>
</svg></body></html>
